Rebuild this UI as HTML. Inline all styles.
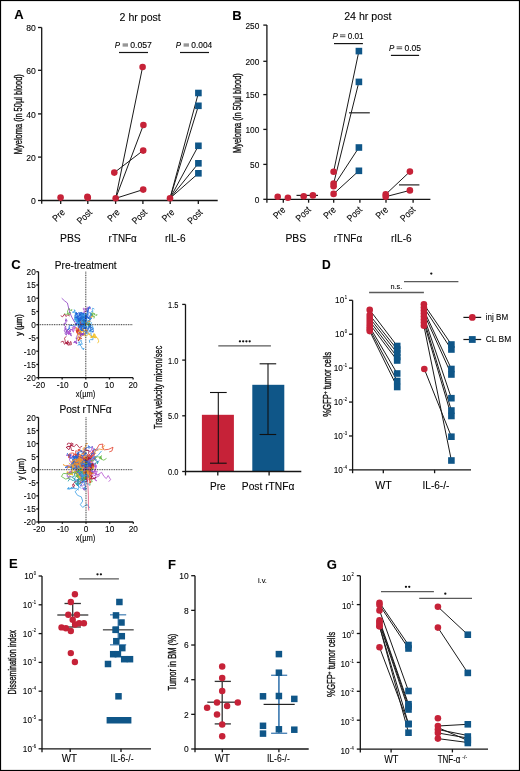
<!DOCTYPE html>
<html><head><meta charset="utf-8"><style>
html,body{margin:0;padding:0;background:#fff;}
svg{display:block;will-change:transform;font-family:"Liberation Sans",sans-serif;}
text{stroke:#111;stroke-width:0.1px;}
text.yl{stroke-width:0.35px;}
</style></head><body>
<svg width="520" height="771" viewBox="0 0 520 771">
<rect x="0" y="0" width="520" height="771" fill="#fff"/>
<text x="14.20" y="18.80" font-size="13" font-weight="bold" fill="#000">A</text>
<text x="119.60" y="20.80" font-size="10.5" textLength="41.20" lengthAdjust="spacingAndGlyphs">2 hr post</text>
<line x1="41.70" y1="27.50" x2="41.70" y2="203.80" stroke="#151515" stroke-width="1.3"/>
<line x1="41.70" y1="200.50" x2="217.70" y2="200.50" stroke="#151515" stroke-width="1.3"/>
<line x1="38.00" y1="200.50" x2="41.70" y2="200.50" stroke="#151515" stroke-width="1.3"/>
<text x="35.90" y="204.27" font-size="9.8" text-anchor="end" textLength="4.80" lengthAdjust="spacingAndGlyphs">0</text>
<line x1="38.00" y1="157.10" x2="41.70" y2="157.10" stroke="#151515" stroke-width="1.3"/>
<text x="35.90" y="160.87" font-size="9.8" text-anchor="end" textLength="9.59" lengthAdjust="spacingAndGlyphs">20</text>
<line x1="38.00" y1="113.90" x2="41.70" y2="113.90" stroke="#151515" stroke-width="1.3"/>
<text x="35.90" y="117.67" font-size="9.8" text-anchor="end" textLength="9.59" lengthAdjust="spacingAndGlyphs">40</text>
<line x1="38.00" y1="70.30" x2="41.70" y2="70.30" stroke="#151515" stroke-width="1.3"/>
<text x="35.90" y="74.07" font-size="9.8" text-anchor="end" textLength="9.59" lengthAdjust="spacingAndGlyphs">60</text>
<line x1="38.00" y1="27.50" x2="41.70" y2="27.50" stroke="#151515" stroke-width="1.3"/>
<text x="35.90" y="31.27" font-size="9.8" text-anchor="end" textLength="9.59" lengthAdjust="spacingAndGlyphs">80</text>
<line x1="60.70" y1="200.50" x2="60.70" y2="203.90" stroke="#151515" stroke-width="1.3"/>
<text transform="translate(65.50,213.00) rotate(-45)" font-size="9.6" text-anchor="end" textLength="13.03" lengthAdjust="spacingAndGlyphs">Pre</text>
<line x1="87.80" y1="200.50" x2="87.80" y2="203.90" stroke="#151515" stroke-width="1.3"/>
<text transform="translate(92.60,213.00) rotate(-45)" font-size="9.6" text-anchor="end" textLength="16.75" lengthAdjust="spacingAndGlyphs">Post</text>
<line x1="115.60" y1="200.50" x2="115.60" y2="203.90" stroke="#151515" stroke-width="1.3"/>
<text transform="translate(120.40,213.00) rotate(-45)" font-size="9.6" text-anchor="end" textLength="13.03" lengthAdjust="spacingAndGlyphs">Pre</text>
<line x1="142.90" y1="200.50" x2="142.90" y2="203.90" stroke="#151515" stroke-width="1.3"/>
<text transform="translate(147.70,213.00) rotate(-45)" font-size="9.6" text-anchor="end" textLength="16.75" lengthAdjust="spacingAndGlyphs">Post</text>
<line x1="170.20" y1="200.50" x2="170.20" y2="203.90" stroke="#151515" stroke-width="1.3"/>
<text transform="translate(175.00,213.00) rotate(-45)" font-size="9.6" text-anchor="end" textLength="13.03" lengthAdjust="spacingAndGlyphs">Pre</text>
<line x1="198.30" y1="200.50" x2="198.30" y2="203.90" stroke="#151515" stroke-width="1.3"/>
<text transform="translate(203.10,213.00) rotate(-45)" font-size="9.6" text-anchor="end" textLength="16.75" lengthAdjust="spacingAndGlyphs">Post</text>
<text x="60.00" y="242.10" font-size="10.8" textLength="20.80" lengthAdjust="spacingAndGlyphs">PBS</text>
<text x="108.60" y="242.10" font-size="10.8" textLength="28.20" lengthAdjust="spacingAndGlyphs">rTNFα</text>
<text x="164.90" y="242.10" font-size="10.8" textLength="20.80" lengthAdjust="spacingAndGlyphs">rIL-6</text>
<text class="yl" transform="translate(21.70,154.20) rotate(-90)" font-size="10.6" textLength="80.00" lengthAdjust="spacingAndGlyphs" fill="#111">Myeloma (in 50µl blood)</text>
<text x="114.80" y="47.80" font-size="8.4" font-style="italic" textLength="5.32" lengthAdjust="spacingAndGlyphs">P</text>
<line x1="122.60" y1="44.10" x2="128.00" y2="44.10" stroke="#333" stroke-width="0.85"/>
<line x1="122.60" y1="45.90" x2="128.00" y2="45.90" stroke="#333" stroke-width="0.85"/>
<text x="130.20" y="47.80" font-size="8.4" textLength="21.70" lengthAdjust="spacingAndGlyphs">0.057</text>
<line x1="119.00" y1="52.50" x2="148.00" y2="52.50" stroke="#151515" stroke-width="1.2"/>
<text x="175.70" y="47.80" font-size="8.4" font-style="italic" textLength="5.32" lengthAdjust="spacingAndGlyphs">P</text>
<line x1="183.60" y1="44.10" x2="189.00" y2="44.10" stroke="#333" stroke-width="0.85"/>
<line x1="183.60" y1="45.90" x2="189.00" y2="45.90" stroke="#333" stroke-width="0.85"/>
<text x="191.30" y="47.80" font-size="8.4" textLength="21.00" lengthAdjust="spacingAndGlyphs">0.004</text>
<line x1="180.00" y1="52.50" x2="209.00" y2="52.50" stroke="#151515" stroke-width="1.2"/>
<line x1="115.70" y1="198.30" x2="142.60" y2="67.00" stroke="#1a1a1a" stroke-width="1.0"/>
<line x1="115.70" y1="198.30" x2="143.40" y2="125.00" stroke="#1a1a1a" stroke-width="1.0"/>
<line x1="115.70" y1="198.30" x2="143.20" y2="189.60" stroke="#1a1a1a" stroke-width="1.0"/>
<line x1="114.30" y1="172.60" x2="143.00" y2="150.60" stroke="#1a1a1a" stroke-width="1.0"/>
<line x1="170.00" y1="198.30" x2="198.40" y2="93.00" stroke="#1a1a1a" stroke-width="1.0"/>
<line x1="170.00" y1="198.30" x2="198.40" y2="105.80" stroke="#1a1a1a" stroke-width="1.0"/>
<line x1="170.00" y1="198.30" x2="198.40" y2="145.80" stroke="#1a1a1a" stroke-width="1.0"/>
<line x1="170.00" y1="198.30" x2="198.40" y2="163.30" stroke="#1a1a1a" stroke-width="1.0"/>
<line x1="170.00" y1="198.30" x2="198.40" y2="173.30" stroke="#1a1a1a" stroke-width="1.0"/>
<circle cx="60.60" cy="197.60" r="3.3" fill="#c62238"/>
<circle cx="87.40" cy="196.80" r="3.3" fill="#c62238"/>
<circle cx="87.80" cy="197.80" r="3.3" fill="#c62238"/>
<circle cx="115.70" cy="198.30" r="3.3" fill="#c62238"/>
<circle cx="114.30" cy="172.60" r="3.3" fill="#c62238"/>
<circle cx="142.60" cy="67.00" r="3.3" fill="#c62238"/>
<circle cx="143.40" cy="125.00" r="3.3" fill="#c62238"/>
<circle cx="143.20" cy="150.60" r="3.3" fill="#c62238"/>
<circle cx="143.20" cy="189.60" r="3.3" fill="#c62238"/>
<circle cx="170.00" cy="198.30" r="3.3" fill="#c62238"/>
<rect x="195.10" y="89.70" width="6.6" height="6.6" fill="#0f5688"/>
<rect x="195.10" y="102.50" width="6.6" height="6.6" fill="#0f5688"/>
<rect x="195.10" y="142.50" width="6.6" height="6.6" fill="#0f5688"/>
<rect x="195.10" y="160.00" width="6.6" height="6.6" fill="#0f5688"/>
<rect x="195.10" y="170.00" width="6.6" height="6.6" fill="#0f5688"/>
<text x="232.30" y="19.80" font-size="13" font-weight="bold" fill="#000">B</text>
<text x="344.20" y="19.80" font-size="10.5" textLength="47.20" lengthAdjust="spacingAndGlyphs">24 hr post</text>
<line x1="266.90" y1="25.10" x2="266.90" y2="202.70" stroke="#151515" stroke-width="1.3"/>
<line x1="266.90" y1="199.30" x2="430.40" y2="199.30" stroke="#151515" stroke-width="1.3"/>
<line x1="263.30" y1="199.30" x2="266.90" y2="199.30" stroke="#151515" stroke-width="1.3"/>
<text x="259.40" y="203.00" font-size="9.6" text-anchor="end" textLength="4.65" lengthAdjust="spacingAndGlyphs">0</text>
<line x1="263.30" y1="164.40" x2="266.90" y2="164.40" stroke="#151515" stroke-width="1.3"/>
<text x="259.40" y="168.10" font-size="9.6" text-anchor="end" textLength="9.29" lengthAdjust="spacingAndGlyphs">50</text>
<line x1="263.30" y1="129.40" x2="266.90" y2="129.40" stroke="#151515" stroke-width="1.3"/>
<text x="259.40" y="133.10" font-size="9.6" text-anchor="end" textLength="13.94" lengthAdjust="spacingAndGlyphs">100</text>
<line x1="263.30" y1="94.60" x2="266.90" y2="94.60" stroke="#151515" stroke-width="1.3"/>
<text x="259.40" y="98.30" font-size="9.6" text-anchor="end" textLength="13.94" lengthAdjust="spacingAndGlyphs">150</text>
<line x1="263.30" y1="61.30" x2="266.90" y2="61.30" stroke="#151515" stroke-width="1.3"/>
<text x="259.40" y="65.00" font-size="9.6" text-anchor="end" textLength="13.94" lengthAdjust="spacingAndGlyphs">200</text>
<line x1="263.30" y1="25.10" x2="266.90" y2="25.10" stroke="#151515" stroke-width="1.3"/>
<text x="259.40" y="28.80" font-size="9.6" text-anchor="end" textLength="13.94" lengthAdjust="spacingAndGlyphs">250</text>
<line x1="283.30" y1="199.30" x2="283.30" y2="202.70" stroke="#151515" stroke-width="1.3"/>
<text transform="translate(286.10,210.40) rotate(-45)" font-size="9.6" text-anchor="end" textLength="13.03" lengthAdjust="spacingAndGlyphs">Pre</text>
<line x1="308.60" y1="199.30" x2="308.60" y2="202.70" stroke="#151515" stroke-width="1.3"/>
<text transform="translate(311.40,210.40) rotate(-45)" font-size="9.6" text-anchor="end" textLength="16.75" lengthAdjust="spacingAndGlyphs">Post</text>
<line x1="333.70" y1="199.30" x2="333.70" y2="202.70" stroke="#151515" stroke-width="1.3"/>
<text transform="translate(336.50,210.40) rotate(-45)" font-size="9.6" text-anchor="end" textLength="13.03" lengthAdjust="spacingAndGlyphs">Pre</text>
<line x1="359.90" y1="199.30" x2="359.90" y2="202.70" stroke="#151515" stroke-width="1.3"/>
<text transform="translate(362.70,210.40) rotate(-45)" font-size="9.6" text-anchor="end" textLength="16.75" lengthAdjust="spacingAndGlyphs">Post</text>
<line x1="386.00" y1="199.30" x2="386.00" y2="202.70" stroke="#151515" stroke-width="1.3"/>
<text transform="translate(388.80,210.40) rotate(-45)" font-size="9.6" text-anchor="end" textLength="13.03" lengthAdjust="spacingAndGlyphs">Pre</text>
<line x1="413.10" y1="199.30" x2="413.10" y2="202.70" stroke="#151515" stroke-width="1.3"/>
<text transform="translate(415.90,210.40) rotate(-45)" font-size="9.6" text-anchor="end" textLength="16.75" lengthAdjust="spacingAndGlyphs">Post</text>
<text x="285.40" y="242.40" font-size="10.8" textLength="20.80" lengthAdjust="spacingAndGlyphs">PBS</text>
<text x="333.80" y="242.40" font-size="10.8" textLength="28.40" lengthAdjust="spacingAndGlyphs">rTNFα</text>
<text x="390.90" y="242.40" font-size="10.8" textLength="20.80" lengthAdjust="spacingAndGlyphs">rIL-6</text>
<text class="yl" transform="translate(241.00,153.00) rotate(-90)" font-size="10.6" textLength="79.80" lengthAdjust="spacingAndGlyphs" fill="#111">Myeloma (in 50µl blood)</text>
<text x="332.40" y="38.60" font-size="8.4" font-style="italic" textLength="5.32" lengthAdjust="spacingAndGlyphs">P</text>
<line x1="340.00" y1="34.90" x2="345.40" y2="34.90" stroke="#333" stroke-width="0.85"/>
<line x1="340.00" y1="36.70" x2="345.40" y2="36.70" stroke="#333" stroke-width="0.85"/>
<text x="347.70" y="38.60" font-size="8.4" textLength="15.90" lengthAdjust="spacingAndGlyphs">0.01</text>
<line x1="334.00" y1="43.60" x2="362.90" y2="43.60" stroke="#151515" stroke-width="1.2"/>
<text x="388.90" y="50.60" font-size="8.4" font-style="italic" textLength="5.32" lengthAdjust="spacingAndGlyphs">P</text>
<line x1="396.60" y1="46.90" x2="402.20" y2="46.90" stroke="#333" stroke-width="0.85"/>
<line x1="396.60" y1="48.70" x2="402.20" y2="48.70" stroke="#333" stroke-width="0.85"/>
<text x="404.50" y="50.60" font-size="8.4" textLength="16.60" lengthAdjust="spacingAndGlyphs">0.05</text>
<line x1="390.90" y1="55.40" x2="419.10" y2="55.40" stroke="#151515" stroke-width="1.2"/>
<line x1="296.50" y1="195.40" x2="318.00" y2="195.40" stroke="#222" stroke-width="1.2"/>
<line x1="349.00" y1="112.80" x2="369.80" y2="112.80" stroke="#222" stroke-width="1.2"/>
<line x1="399.00" y1="184.90" x2="419.40" y2="184.90" stroke="#222" stroke-width="1.2"/>
<line x1="333.60" y1="171.70" x2="358.90" y2="51.10" stroke="#1a1a1a" stroke-width="1.0"/>
<line x1="333.60" y1="183.60" x2="358.90" y2="81.90" stroke="#1a1a1a" stroke-width="1.0"/>
<line x1="333.60" y1="186.20" x2="358.90" y2="147.50" stroke="#1a1a1a" stroke-width="1.0"/>
<line x1="333.60" y1="193.90" x2="358.90" y2="170.80" stroke="#1a1a1a" stroke-width="1.0"/>
<line x1="385.70" y1="194.40" x2="409.90" y2="171.60" stroke="#1a1a1a" stroke-width="1.0"/>
<line x1="385.70" y1="196.70" x2="409.90" y2="190.40" stroke="#1a1a1a" stroke-width="1.0"/>
<circle cx="277.70" cy="196.70" r="3.3" fill="#c62238"/>
<circle cx="287.90" cy="197.70" r="3.3" fill="#c62238"/>
<circle cx="303.70" cy="196.20" r="3.3" fill="#c62238"/>
<circle cx="312.90" cy="195.40" r="3.3" fill="#c62238"/>
<circle cx="333.60" cy="171.70" r="3.3" fill="#c62238"/>
<circle cx="333.60" cy="183.60" r="3.3" fill="#c62238"/>
<circle cx="333.60" cy="186.20" r="3.3" fill="#c62238"/>
<circle cx="333.60" cy="193.90" r="3.3" fill="#c62238"/>
<circle cx="385.70" cy="194.40" r="3.3" fill="#c62238"/>
<circle cx="385.70" cy="196.70" r="3.3" fill="#c62238"/>
<circle cx="409.90" cy="171.60" r="3.3" fill="#c62238"/>
<circle cx="409.90" cy="190.40" r="3.3" fill="#c62238"/>
<rect x="355.60" y="47.80" width="6.6" height="6.6" fill="#0f5688"/>
<rect x="355.60" y="78.60" width="6.6" height="6.6" fill="#0f5688"/>
<rect x="355.60" y="144.20" width="6.6" height="6.6" fill="#0f5688"/>
<rect x="355.60" y="167.50" width="6.6" height="6.6" fill="#0f5688"/>
<text x="11.20" y="268.80" font-size="13" font-weight="bold" fill="#000">C</text>
<text x="54.80" y="268.50" font-size="10.5" textLength="61.80" lengthAdjust="spacingAndGlyphs">Pre-treatment</text>
<text x="59.40" y="412.70" font-size="10.2" textLength="52.20" lengthAdjust="spacingAndGlyphs">Post rTNFα</text>
<g fill="none" stroke-width="0.8" stroke-linejoin="round">
<polyline points="68.0,330.8 66.9,330.6 66.1,330.9 66.7,332.0 67.4,333.0 66.6,332.2 65.8,331.7 67.5,331.7 67.3,330.5 66.9,329.1 65.4,328.3 64.8,329.4 66.5,330.4 68.3,329.6 69.8,330.8 71.0,329.1 70.6,329.7 72.6,329.5 72.1,330.5" stroke="#8e3fc4"/>
<polyline points="85.9,309.3 87.7,308.4 88.3,310.3 88.9,308.4 89.9,307.8 90.4,309.1 89.2,307.4 87.6,307.0 86.3,308.6" stroke="#b450cf"/>
<polyline points="91.7,314.0 90.7,314.8 92.1,314.9 90.9,314.0 92.2,312.6 91.8,313.4 92.9,315.0 93.0,315.8 92.8,316.7 94.5,316.5 93.9,318.5" stroke="#62b63f"/>
<polyline points="80.5,322.5 81.0,323.7 81.4,321.4 80.7,318.9 79.7,318.8 79.9,317.2 78.7,319.5 79.6,318.2 80.1,315.6 80.7,314.9 82.0,314.3 83.8,315.8 83.5,318.5 84.7,319.1 85.7,316.7 85.6,317.6 84.9,319.0 84.0,317.9 84.4,317.2 84.1,315.7 85.0,316.0 86.1,316.3 84.8,314.4 85.4,315.9 86.9,315.3" stroke="#3a9ee6"/>
<polyline points="82.5,326.0 83.2,325.5 81.7,327.6 80.6,326.4 81.3,326.1 80.2,326.3 80.0,324.6 82.2,323.5 82.9,324.1 80.9,324.5 78.8,324.1 79.4,325.2 79.5,326.5 78.6,327.9 79.1,328.7 80.1,329.4 81.9,328.8 82.5,326.9 81.5,325.1 80.9,327.0 82.0,325.7 79.6,325.5" stroke="#1f62d8"/>
<polyline points="84.8,325.1 85.8,324.6 85.9,322.7 85.3,323.5 84.5,323.3 86.8,323.3 87.0,321.6 85.4,319.8 85.5,318.8 83.7,320.3 84.0,319.3 83.0,319.4 81.3,320.8 80.9,321.6 79.7,323.3 79.2,322.5 78.7,321.7 79.6,321.7" stroke="#3a9ee6"/>
<polyline points="78.3,318.0 77.4,316.0 75.6,315.6 75.6,313.6 74.4,312.7 72.4,312.2 73.4,311.7 75.0,310.9 74.1,309.8 74.9,310.1 74.9,312.2 76.0,312.9 75.7,314.8 76.5,317.3 78.5,316.4 80.0,315.0" stroke="#3a9ee6"/>
<polyline points="78.0,324.3 78.8,322.7 78.5,324.6 77.7,323.0 75.8,323.8 77.1,322.6 77.1,321.2 77.4,323.0 75.5,323.9 76.7,324.8 75.5,326.0 73.6,326.1 72.0,325.6 69.7,325.2 68.9,327.6 70.1,328.1 67.9,329.1 68.4,330.0 69.5,328.8" stroke="#1f62d8"/>
<polyline points="81.6,328.9 82.9,328.8 82.5,329.9 82.0,328.7 82.5,330.5 83.4,330.1 82.0,329.0 81.5,329.8 82.5,327.9 81.4,327.1 80.6,324.6 79.9,322.9 79.0,321.6 80.6,323.7 79.9,322.7 79.7,324.0 82.0,323.9 80.1,322.7 78.2,321.3 77.2,321.1 78.9,320.9 77.5,322.9 79.0,321.8 77.9,320.5 78.6,319.4 76.3,319.7" stroke="#3a9ee6"/>
<polyline points="79.1,337.7 79.7,338.8 80.9,338.8 81.6,338.7 80.5,337.3 78.5,337.1 80.1,338.4 78.8,340.2 78.6,341.1 78.1,340.0 79.9,338.8 78.9,338.9 79.6,340.0" stroke="#a8153a"/>
<polyline points="67.7,333.5 66.1,333.7 66.7,335.1 65.0,333.9 65.4,332.0 64.0,330.8 65.5,329.1 65.1,328.5 64.9,327.1 66.2,326.9 64.7,326.0 64.0,325.1 64.3,323.1 65.7,323.7 66.0,321.7 65.3,321.0 66.5,319.5 67.1,321.2 65.6,320.9 65.9,318.5" stroke="#8e3fc4"/>
<polyline points="83.5,323.6 83.3,321.3 85.4,320.6 86.9,321.0 85.0,321.2 85.9,322.1 83.8,322.6 83.7,324.2 82.7,323.1 83.5,321.9 84.5,321.3 82.7,323.0 82.2,321.3 81.3,318.8 83.0,320.7 84.5,322.0 84.5,323.3 84.1,321.3 82.9,320.6 84.4,320.1 83.7,320.7 85.4,320.0 84.8,318.3 83.4,318.6 83.1,317.6" stroke="#3a9ee6"/>
<polyline points="69.9,332.1 70.4,330.7 70.6,331.8 69.4,330.9 68.1,332.1 68.9,332.2 70.1,333.2 69.4,334.1 68.4,334.1 70.1,333.0 69.7,333.9 70.6,332.9 71.3,334.2 70.0,334.8 71.4,335.9 71.4,334.8" stroke="#8e3fc4"/>
<polyline points="84.6,320.5 85.1,322.8 84.4,320.5 86.6,319.8 85.9,317.9 85.3,318.7 84.9,320.8 86.3,322.1 87.4,323.7 86.6,324.5 84.9,324.2 87.2,323.5 88.0,322.2 89.4,320.0 89.8,321.1 91.5,322.8 90.6,324.7 89.9,323.2 87.8,322.6 88.1,324.6 87.7,323.4 86.7,322.4 85.6,322.4 88.0,322.3 86.5,322.0" stroke="#3a9ee6"/>
<polyline points="67.2,313.5 69.1,313.2 69.9,312.7 69.4,312.2 70.4,313.1 69.6,312.1 70.4,313.1 69.2,315.0 67.4,313.9 66.2,314.4 65.1,314.1 64.1,313.6" stroke="#62b63f"/>
<polyline points="93.5,329.3 93.0,327.5 92.3,325.6 90.3,324.7 90.1,326.3 89.3,326.1 88.6,327.7 89.5,327.6 89.7,326.0 87.8,326.0 88.7,326.5 89.3,325.0 87.6,323.6 89.0,324.8" stroke="#3a9ee6"/>
<polyline points="91.4,327.0 89.6,326.8 88.8,325.1 88.6,323.3 89.9,323.7 90.2,325.0 89.7,324.3 89.3,322.6 89.1,324.5 88.7,325.2 88.7,326.0 88.0,325.4 86.6,323.6 84.6,324.0 84.2,324.8" stroke="#62b63f"/>
<polyline points="80.1,318.0 79.7,319.3 79.0,318.4 79.2,320.3 79.5,321.7 79.8,319.4 82.0,319.6 82.8,321.9 82.7,323.1 81.3,323.3 82.1,323.2 81.9,321.8 81.1,324.3 78.9,323.5 81.2,323.7 80.5,322.7 80.6,321.5" stroke="#1f62d8"/>
<polyline points="78.2,333.2 77.4,332.8 76.5,332.3 78.0,332.0 77.4,330.0 77.4,329.1 76.0,328.6 76.9,327.3 75.6,328.8 76.9,329.6 77.4,330.4 77.4,332.8 76.5,332.3" stroke="#f0952a"/>
<polyline points="91.3,330.4 90.9,331.7 90.1,330.5 88.3,330.9 87.9,331.5 87.8,334.3 86.9,333.3 84.8,333.9 83.5,333.2 83.8,330.8 82.6,328.5 81.7,329.3 80.6,326.9 82.4,328.6" stroke="#3a9ee6"/>
<polyline points="86.5,322.6 86.6,323.7 85.8,325.2 84.0,324.7 84.4,325.5 84.1,324.2 84.3,323.4 84.2,322.3 83.8,323.7 84.6,322.9 83.4,322.6 83.8,321.9" stroke="#f0952a"/>
<polyline points="82.5,326.4 81.6,325.2 79.8,323.6 81.8,322.3 82.9,322.1 82.7,319.5 81.3,319.6 82.1,320.4 80.5,320.0 80.6,322.2 79.8,323.5 79.3,322.4 80.3,324.2 80.3,325.4 78.4,324.5 77.5,325.0 75.3,324.4 75.4,323.2" stroke="#1f62d8"/>
<polyline points="80.5,320.2 82.0,319.4 81.4,318.7 80.6,318.7 79.8,318.3 81.0,317.4 81.5,318.4 81.8,316.4 83.4,317.0 81.5,315.4 83.6,314.6 83.4,313.6 84.3,312.6 84.8,313.7 83.2,314.7 82.0,313.3" stroke="#1f62d8"/>
<polyline points="84.2,320.2 85.5,321.8 85.3,320.5 84.9,318.8 85.7,317.4 85.5,314.7 87.2,315.1 87.3,312.4 86.8,311.0 88.2,310.9 86.6,310.7 87.1,308.9 88.3,308.9 89.5,308.0 90.3,307.8 89.9,306.6 88.5,307.5 88.5,309.6 88.0,312.1 87.0,311.2 88.0,311.3 87.7,313.3 89.8,312.7 91.2,313.9 91.0,316.3 92.0,314.9 89.9,315.0" stroke="#1f62d8"/>
<polyline points="78.4,343.3 79.1,341.7 79.9,343.5 80.2,344.4 82.3,344.2 81.4,342.2 80.8,341.3 80.7,340.2 82.1,341.4" stroke="#3a9ee6"/>
<polyline points="84.5,326.5 82.7,326.7 81.8,328.1 80.6,329.2 82.3,328.4 84.3,328.5 82.6,328.3 81.5,327.1 82.3,327.6 81.7,328.6 82.9,328.6 82.3,329.5 84.1,331.1 85.2,331.6 87.0,330.9 86.2,332.9" stroke="#1f62d8"/>
<polyline points="93.9,337.3 96.1,337.9 96.1,336.3 95.2,337.4 94.3,337.6 92.9,336.9 93.9,336.7 95.9,337.2 97.6,338.0 98.4,340.3 99.0,340.9 98.3,342.0 97.7,343.2" stroke="#f1be1e"/>
<polyline points="91.5,331.1 89.6,330.2 90.5,329.4 92.4,330.0 93.2,328.8 92.1,327.1 90.4,328.7 91.1,330.4 91.0,332.6 91.1,334.4 91.5,336.5 92.3,337.1 92.9,337.7 93.0,339.7 90.6,339.6 89.3,340.3 89.8,342.8" stroke="#3a9ee6"/>
<polyline points="95.9,336.0 94.8,336.3 95.1,334.2 93.7,333.9 94.5,334.1 93.2,335.8 91.7,336.9 94.1,336.3 95.4,335.8 93.6,334.4 93.1,336.8 90.9,337.9 90.3,336.4" stroke="#f1be1e"/>
<polyline points="77.7,332.2 78.7,332.0 77.5,330.2 79.1,331.4 80.9,330.8 80.5,332.5 81.2,332.6 82.3,331.0 83.9,331.7 83.4,330.1 83.4,331.0 83.0,329.9 83.9,328.9" stroke="#f0952a"/>
<polyline points="81.8,321.2 80.1,321.1 80.4,322.8 81.6,323.6 81.6,322.4 81.8,323.4 81.3,321.6 80.5,320.2 79.8,320.9 78.7,320.9 77.5,318.7 75.4,317.5 76.9,316.6 77.4,318.9 76.7,317.6 74.5,317.6 75.4,317.2 75.1,315.0 77.0,314.1 76.3,312.3 75.7,313.8" stroke="#1f62d8"/>
<polyline points="79.9,333.0 81.9,332.7 81.8,333.9 82.7,335.4 81.7,335.1 80.6,334.7 81.3,334.1 81.1,332.6 79.6,333.6" stroke="#f1be1e"/>
<polyline points="87.6,322.4 88.4,320.2 89.1,321.7 89.5,320.8 89.7,322.0 89.6,319.6 90.2,318.5 91.5,317.5 92.6,316.0 91.2,315.9 91.0,316.6 90.7,317.5 89.7,319.0 90.8,317.6 89.9,318.2" stroke="#f0952a"/>
<polyline points="84.4,325.8 83.9,324.9 84.7,324.7 84.0,326.7 83.4,328.8 85.0,328.0 83.6,326.2 84.6,328.5 86.6,327.5 88.6,328.8 89.5,328.1 90.1,327.5 91.3,329.4 89.9,331.2 89.1,332.3" stroke="#1f62d8"/>
<polyline points="92.6,315.1 92.3,315.9 92.1,313.8 93.0,312.7 94.0,314.5 94.6,313.4 94.4,314.8 95.4,315.0 96.7,315.5 96.9,314.0" stroke="#62b63f"/>
<polyline points="77.1,332.0 75.9,331.0 76.3,330.4 77.5,330.4 78.8,329.3 79.0,330.3 78.0,331.0 77.4,331.1 79.4,330.6 80.4,331.8 79.4,332.2 79.7,333.7 81.4,334.3" stroke="#a8153a"/>
<polyline points="82.7,322.3 81.5,321.7 81.8,324.0 81.0,323.6 81.1,325.2 82.4,326.6 82.6,325.6 83.9,326.3 83.2,327.0 84.3,328.3 85.7,329.3 86.4,327.9 86.2,326.6 86.0,328.7 85.1,327.9 83.2,327.7 84.5,326.3 86.0,325.5 86.6,327.2 85.4,326.8 85.4,328.5 84.3,328.8 85.1,327.1" stroke="#1f62d8"/>
<polyline points="81.7,316.4 81.6,315.4 81.8,316.8 82.8,315.6 84.7,316.9 84.6,315.7 86.1,316.7 85.9,317.6 87.7,316.9 86.9,316.4 88.6,317.2 88.9,318.2 89.4,318.9 90.4,320.2 89.5,318.6 90.6,319.2 91.7,317.9" stroke="#1f62d8"/>
<polyline points="82.0,318.1 80.1,317.8 80.4,318.8 79.2,321.0 79.6,323.2 78.5,323.1 78.8,324.5 79.6,327.1 78.5,326.1 80.3,326.8 80.8,325.9 82.1,323.8 82.5,324.8 83.6,327.2 82.9,328.5" stroke="#1f62d8"/>
<polyline points="78.9,332.7 77.8,333.9 77.2,335.5 76.8,336.5 76.2,337.8 76.2,338.7 76.5,338.0 76.8,340.2 76.2,341.3 77.0,343.2 76.0,343.6 75.6,342.3 75.0,340.9 73.7,342.7 75.2,342.2 76.0,341.9 76.5,343.5" stroke="#8e3fc4"/>
<polyline points="82.7,333.7 82.0,335.2 83.7,335.3 84.7,333.6 83.9,333.9 82.0,333.5 81.1,334.6 82.7,334.4 84.7,334.6 84.8,333.7 83.8,333.5" stroke="#8e3fc4"/>
<polyline points="77.9,321.5 77.9,319.9 75.6,319.7 76.5,317.6 76.3,320.0 76.6,322.0 75.9,320.7 74.6,318.9 75.6,318.3 75.6,319.6 76.3,319.3 75.1,319.8 77.3,320.1 78.5,320.2 79.3,319.6 77.4,319.6 76.3,319.2 74.7,318.2 73.8,320.2 74.8,321.9 76.4,320.3 76.0,318.4 74.6,316.8 74.9,315.5 75.0,314.4" stroke="#3a9ee6"/>
<polyline points="81.1,320.3 81.1,319.1 82.7,320.0 81.6,320.2 79.9,319.5 79.6,317.1 80.4,317.2 82.0,316.9 83.6,317.2 83.7,315.5 82.7,317.2 81.7,318.8 83.6,320.6 83.2,319.4 83.3,318.2 84.8,319.7 86.3,317.6 88.5,317.8 90.3,317.7 91.4,318.8" stroke="#1f62d8"/>
<polyline points="80.2,335.3 79.1,334.1 80.6,334.0 79.2,333.5 80.5,332.2 81.3,334.2 80.5,332.4 79.2,331.1 81.0,330.2 82.4,330.7 80.9,330.8 80.2,331.0 81.2,331.2 81.6,330.4" stroke="#f1be1e"/>
<polyline points="88.4,329.2 86.9,331.3 87.3,328.8 88.5,328.7 88.7,326.4 90.6,327.2 89.6,325.0 89.0,323.8 90.5,324.9 89.9,326.9 91.4,327.1 92.5,329.0 93.4,330.3 93.1,332.2 92.7,331.0 92.1,331.7 92.9,332.3" stroke="#1f62d8"/>
<polyline points="82.4,322.5 83.0,321.6 83.0,320.1 82.0,320.2 81.4,319.2 83.4,319.5 85.3,317.9 86.5,317.0 88.6,317.2 88.4,318.9 89.0,316.9 89.9,316.2 89.3,315.6 87.6,314.2 87.0,315.9 86.0,317.2 87.1,315.6 85.4,314.3 86.7,315.2 84.9,316.3 83.9,315.6 83.5,318.1" stroke="#1f62d8"/>
<polyline points="82.4,320.5 81.9,318.7 80.4,318.3 82.1,316.6 82.9,314.0 83.6,314.4 81.5,313.7 83.0,314.1 82.9,312.8 83.9,313.3 83.1,313.8 80.7,314.2 82.1,312.4 79.9,312.6 79.6,313.8 80.8,314.9 81.6,314.7 80.1,314.6 79.7,313.6 79.0,312.4 79.4,313.1 79.4,315.5 81.1,313.8 80.6,316.3 80.3,314.7 78.3,313.0 77.2,313.8 76.1,313.2 77.0,312.9 77.6,314.1" stroke="#1f62d8"/>
<polyline points="90.3,333.5 89.9,334.7 88.6,333.5 87.1,331.6 86.6,329.9 86.9,330.8 86.4,329.7 84.1,330.5 82.2,328.9 83.5,326.6 82.9,325.3 82.6,322.8 82.8,321.9 84.5,321.6 83.4,322.5" stroke="#f0952a"/>
<polyline points="79.1,318.6 80.6,316.6 80.7,315.5 82.2,314.3 83.6,316.0 82.6,315.2 84.5,315.1 83.2,315.6 82.3,317.0 84.2,317.8 84.2,315.3 85.8,314.8 84.8,314.0 86.8,313.2 88.4,313.1" stroke="#3a9ee6"/>
<polyline points="83.1,319.1 81.7,320.8 80.8,321.2 79.4,321.2 80.8,322.0 79.0,323.1 80.4,321.8 79.3,323.6 80.4,324.9 79.6,327.1 79.3,327.8" stroke="#1c9aa0"/>
<polyline points="86.5,310.4 85.7,312.1 85.0,311.0 84.1,312.6 84.1,310.4 83.1,309.0 83.5,308.1 85.0,309.1 84.8,309.9 85.7,309.7 86.0,308.5" stroke="#b450cf"/>
<polyline points="72.5,329.8 72.8,331.5 73.7,332.1 73.1,331.1 74.1,330.7 73.3,329.5 72.2,327.4 73.0,328.4 73.4,326.9 74.1,326.2 73.9,327.1 74.7,327.2 76.0,327.3 74.8,327.8 73.7,328.4 74.2,327.9 74.8,329.3 74.9,330.1" stroke="#b450cf"/>
<polyline points="79.9,321.9 80.5,324.1 82.2,322.7 83.7,320.6 84.5,318.2 85.6,318.0 83.5,318.0 82.8,316.3 83.2,317.2 83.0,319.7 81.9,321.8 79.8,322.0 80.5,322.8 81.4,321.3 82.9,323.0" stroke="#1f62d8"/>
<polyline points="80.1,326.7 81.6,326.5 82.1,325.5 84.0,324.7 84.8,323.7 83.1,322.2 84.4,321.3 82.3,322.1 83.2,324.4 82.9,322.8 81.5,320.8 82.5,321.1 83.0,319.9 83.2,318.2 82.1,318.9 83.6,318.8 82.4,317.4 84.3,318.1 82.5,318.3 82.1,319.1 83.8,320.5 85.3,322.2 84.2,321.2 85.6,319.9 86.4,319.5 86.7,318.4" stroke="#1f62d8"/>
<polyline points="80.7,320.8 79.1,321.6 80.9,322.2 81.9,321.7 80.5,320.2 82.3,320.8 81.3,320.6 78.9,320.4 77.6,320.2 78.9,318.4 78.8,320.2 78.2,321.9 78.9,319.4 77.6,317.7 79.4,318.9" stroke="#1f62d8"/>
<polyline points="80.2,319.3 81.7,320.8 80.4,319.9 79.1,320.2 78.6,319.4 78.2,316.7 79.3,315.4 77.8,317.2 78.1,315.9 78.1,314.3 75.8,313.4 77.1,315.4 77.9,315.3 77.4,317.8 75.6,317.5 77.1,317.5 79.0,318.5 80.5,320.7 80.5,319.6 81.4,318.1 80.4,320.5" stroke="#1f62d8"/>
<polyline points="81.6,326.6 82.3,327.3 82.4,328.1 83.7,326.7 85.6,326.2 87.3,326.7 85.9,327.0 86.0,328.0 85.2,325.5 85.6,324.2 85.8,325.1 83.5,325.7 83.2,324.3 83.8,325.4 82.2,325.7 83.6,325.4 83.1,326.2 83.9,323.8 83.3,324.6 83.6,323.0 82.5,321.7 81.8,323.7 80.9,322.5 82.1,322.5 82.6,323.3" stroke="#3a9ee6"/>
<polyline points="67.4,313.1 68.4,313.0 67.0,311.7 67.7,311.5 67.8,310.4 68.6,309.0 68.9,308.3 69.8,309.4 68.9,308.8 70.5,310.4 72.0,309.6 71.3,311.1" stroke="#62b63f"/>
<polyline points="91.5,337.8 91.5,335.9 89.3,334.8 89.0,333.5 88.5,334.3 86.5,335.8 85.3,335.9 83.7,335.5 84.2,334.7 85.1,333.6 84.0,332.9 84.1,331.8" stroke="#f1be1e"/>
<polyline points="82.4,316.9 82.4,317.8 82.0,319.1 82.0,321.2 81.8,320.3 83.0,320.8 84.6,321.6 84.4,323.8 83.5,324.8 85.1,324.2 83.8,323.5" stroke="#1c9aa0"/>
<polyline points="77.9,345.7 78.5,344.4 80.6,344.8 79.7,344.8 81.2,346.2 82.3,348.6 83.4,349.7 84.1,348.5 82.5,348.7" stroke="#3a9ee6"/>
<polyline points="69.7,330.2 70.5,331.5 68.9,332.2 69.6,333.3 67.8,332.2 69.2,331.4 68.7,332.0 67.4,333.2 68.5,333.7 69.9,333.9 67.9,333.7 69.6,333.3 68.8,334.2" stroke="#b450cf"/>
<polyline points="82.6,320.7 82.9,319.3 84.4,317.7 86.1,318.5 85.3,317.5 86.3,316.1 86.3,317.2 87.1,317.9 86.5,319.0 85.8,321.7 84.6,320.7 84.1,319.9 83.2,318.8 81.3,318.3 80.1,317.0 79.4,314.5 81.1,312.8" stroke="#1f62d8"/>
<polyline points="78.8,330.2 78.3,328.0 79.9,327.3 79.3,325.0 81.2,324.8 80.7,324.0 82.6,324.0 81.7,324.1 79.9,323.2 80.2,321.6 80.8,320.8 81.0,322.7 81.2,321.9 82.6,320.9" stroke="#e3402c"/>
<polyline points="84.2,325.4 83.5,326.5 82.8,325.4 81.4,323.2 83.4,322.6 85.1,323.8 83.9,324.8 83.4,322.6 83.6,323.5 82.7,323.6 81.9,323.5 80.1,324.3 80.9,326.1 80.5,324.4 79.3,324.6 79.3,325.6 78.8,324.7 78.0,327.0 79.8,327.4 81.4,327.9 80.4,328.5 81.4,330.9 81.5,329.7 83.4,330.6 81.0,330.4" stroke="#1f62d8"/>
<polyline points="67.2,343.7 66.7,342.6 67.9,340.7 68.0,342.8 67.8,341.8 69.5,343.3 70.7,341.4 71.2,343.0 71.4,344.6 70.0,344.9 68.8,344.8" stroke="#a8153a"/>
<polyline points="78.0,333.7 79.7,334.9 77.8,334.4 78.0,335.4 78.4,336.2 77.5,337.1 77.5,339.1 79.5,339.7 79.0,339.2 80.8,338.1 80.4,337.1 81.3,336.2 80.4,334.5" stroke="#f0952a"/>
<polyline points="78.8,326.2 79.5,324.6 80.2,323.9 79.4,323.5 77.9,322.8 79.6,322.3 81.4,321.2 81.7,323.0 83.2,322.4 81.5,320.5 82.9,318.7 84.9,318.7 85.4,319.8 87.0,320.0 89.2,320.7 90.3,318.7 91.0,319.1 89.8,317.3 91.1,315.1 90.7,312.7 91.7,311.3 92.7,311.9 92.6,310.1 92.2,309.3 92.7,308.2 94.4,309.1" stroke="#3a9ee6"/>
<polyline points="77.6,331.3 78.7,329.9 78.0,330.6 77.8,329.9 77.2,331.4 78.3,333.4 77.2,333.5 76.9,331.7 77.6,332.0 76.1,330.9 77.2,329.6 77.2,327.9" stroke="#e3402c"/>
<polyline points="67.3,344.7 67.0,343.9 65.7,342.7 67.0,343.5 68.3,343.4 66.9,343.8 66.4,343.2 65.2,342.2 65.1,340.1 64.5,338.7 64.8,337.6 66.4,336.5" stroke="#a8153a"/>
<polyline points="79.4,333.5 80.4,334.2 80.4,336.1 81.5,334.5 81.1,332.9 79.5,332.8 81.0,334.3 81.7,334.0 83.5,333.2 82.9,334.8 82.0,334.0 80.4,335.4 81.2,336.9" stroke="#8e3fc4"/>
<polyline points="61.7,298.2 64.5,300.8 67.4,303.0 68.8,308.8 70.2,313.6 72.1,317.8 74.0,321.0 75.9,324.2" stroke="#8e3fc4"/>
<polyline points="60.7,315.7 62.6,316.8 64.5,314.1 65.9,316.5 67.8,314.9 69.7,316.0" stroke="#a8153a"/>
<polyline points="60.7,342.2 63.1,341.1 64.5,344.3 66.9,342.2 68.3,345.4 70.7,342.7" stroke="#a8153a"/>
</g>
<line x1="38.5" y1="324.70" x2="132.6" y2="324.70" stroke="#222" stroke-width="1" stroke-dasharray="0.9 0.82"/>
<line x1="85.80" y1="271.70" x2="85.80" y2="377.70" stroke="#222" stroke-width="1" stroke-dasharray="0.9 0.82"/>
<line x1="38.50" y1="271.70" x2="38.50" y2="377.70" stroke="#151515" stroke-width="1.3"/>
<line x1="38.50" y1="377.70" x2="133.10" y2="377.70" stroke="#151515" stroke-width="1.3"/>
<line x1="36.30" y1="377.70" x2="38.50" y2="377.70" stroke="#151515" stroke-width="1.3"/>
<text x="35.80" y="381.03" font-size="9.4" text-anchor="end" textLength="11.96" lengthAdjust="spacingAndGlyphs">-20</text>
<line x1="36.30" y1="364.45" x2="38.50" y2="364.45" stroke="#151515" stroke-width="1.3"/>
<text x="35.80" y="367.78" font-size="9.4" text-anchor="end" textLength="11.96" lengthAdjust="spacingAndGlyphs">-15</text>
<line x1="36.30" y1="351.20" x2="38.50" y2="351.20" stroke="#151515" stroke-width="1.3"/>
<text x="35.80" y="354.53" font-size="9.4" text-anchor="end" textLength="11.96" lengthAdjust="spacingAndGlyphs">-10</text>
<line x1="36.30" y1="337.95" x2="38.50" y2="337.95" stroke="#151515" stroke-width="1.3"/>
<text x="35.80" y="341.28" font-size="9.4" text-anchor="end" textLength="7.36" lengthAdjust="spacingAndGlyphs">-5</text>
<line x1="36.30" y1="324.70" x2="38.50" y2="324.70" stroke="#151515" stroke-width="1.3"/>
<text x="35.80" y="328.03" font-size="9.4" text-anchor="end" textLength="4.60" lengthAdjust="spacingAndGlyphs">0</text>
<line x1="36.30" y1="311.45" x2="38.50" y2="311.45" stroke="#151515" stroke-width="1.3"/>
<text x="35.80" y="314.78" font-size="9.4" text-anchor="end" textLength="4.60" lengthAdjust="spacingAndGlyphs">5</text>
<line x1="36.30" y1="298.20" x2="38.50" y2="298.20" stroke="#151515" stroke-width="1.3"/>
<text x="35.80" y="301.53" font-size="9.4" text-anchor="end" textLength="9.20" lengthAdjust="spacingAndGlyphs">10</text>
<line x1="36.30" y1="284.95" x2="38.50" y2="284.95" stroke="#151515" stroke-width="1.3"/>
<text x="35.80" y="288.28" font-size="9.4" text-anchor="end" textLength="9.20" lengthAdjust="spacingAndGlyphs">15</text>
<line x1="36.30" y1="271.70" x2="38.50" y2="271.70" stroke="#151515" stroke-width="1.3"/>
<text x="35.80" y="275.03" font-size="9.4" text-anchor="end" textLength="9.20" lengthAdjust="spacingAndGlyphs">20</text>
<line x1="38.50" y1="377.70" x2="38.50" y2="379.50" stroke="#151515" stroke-width="1.3"/>
<text x="39.10" y="387.50" font-size="9.2" text-anchor="middle" textLength="11.97" lengthAdjust="spacingAndGlyphs">-20</text>
<line x1="62.15" y1="377.70" x2="62.15" y2="379.50" stroke="#151515" stroke-width="1.3"/>
<text x="62.75" y="387.50" font-size="9.2" text-anchor="middle" textLength="11.97" lengthAdjust="spacingAndGlyphs">-10</text>
<line x1="85.80" y1="377.70" x2="85.80" y2="379.50" stroke="#151515" stroke-width="1.3"/>
<text x="85.80" y="387.50" font-size="9.2" text-anchor="middle" textLength="4.60" lengthAdjust="spacingAndGlyphs">0</text>
<line x1="109.45" y1="377.70" x2="109.45" y2="379.50" stroke="#151515" stroke-width="1.3"/>
<text x="109.45" y="387.50" font-size="9.2" text-anchor="middle" textLength="9.21" lengthAdjust="spacingAndGlyphs">10</text>
<line x1="133.10" y1="377.70" x2="133.10" y2="379.50" stroke="#151515" stroke-width="1.3"/>
<text x="133.10" y="387.50" font-size="9.2" text-anchor="middle" textLength="9.21" lengthAdjust="spacingAndGlyphs">20</text>
<text x="85.60" y="396.70" font-size="9.2" text-anchor="middle" textLength="19.60" lengthAdjust="spacingAndGlyphs">x(µm)</text>
<text class="yl" transform="translate(22.00,335.80) rotate(-90)" font-size="8.2" textLength="21.60" lengthAdjust="spacingAndGlyphs" fill="#111">y (µm)</text>
<g fill="none" stroke-width="0.8" stroke-linejoin="round">
<polyline points="84.0,471.0 84.5,468.9 84.7,466.8 85.0,464.7 86.3,465.8 88.2,465.1 87.8,467.6 86.2,465.3 88.1,466.3 88.5,464.6 87.0,464.1 88.3,464.9 87.3,467.4 85.3,468.9 84.3,469.4 83.9,468.2 81.1,468.4 81.4,467.2 81.4,465.8 80.5,468.0 79.5,467.6 78.2,468.1 77.6,469.3" stroke="#62b63f"/>
<polyline points="88.1,472.4 86.7,470.3 85.3,470.9 83.1,473.1 83.0,471.5 82.6,469.7 83.4,472.2 84.5,472.7 86.5,475.5 84.0,476.2 83.8,475.0 82.7,475.4 79.7,474.7 81.4,473.9 81.6,475.7 81.7,472.2 79.9,472.1" stroke="#f0952a"/>
<polyline points="82.5,473.1 85.0,471.8 85.1,469.4 87.5,470.5 88.8,473.9 90.9,475.2 93.7,475.0 95.8,476.2 95.9,474.3 97.3,471.2 94.0,471.7 94.6,470.2 95.1,471.8" stroke="#b450cf"/>
<polyline points="83.8,466.4 83.4,463.4 85.2,462.1 82.0,461.3 79.4,463.1 78.4,460.1 75.7,458.3 78.2,456.5 78.8,454.1 77.4,454.3 78.3,456.0 77.8,454.8 77.1,452.6 76.7,454.6 76.2,455.9 74.5,454.5" stroke="#3a9ee6"/>
<polyline points="90.0,471.1 91.4,467.7 90.3,468.8 93.1,469.4 90.4,471.2 90.0,468.0 91.2,467.7 94.3,466.3 95.7,466.8 95.6,463.3 94.6,463.7 92.2,463.1 94.5,465.8 91.6,465.8" stroke="#8e3fc4"/>
<polyline points="89.5,475.6 88.2,477.0 86.9,474.1 89.4,476.0 89.1,477.2 91.6,478.7 91.1,476.3 89.7,474.3 88.2,475.5 86.3,478.3 87.1,481.7 87.7,480.2 85.4,482.0 82.9,481.5" stroke="#a8153a"/>
<polyline points="81.0,469.7 84.1,469.3 84.9,472.2 86.5,474.3 84.5,472.8 81.2,472.9 81.7,474.6 84.1,476.2 84.6,479.4 82.0,477.5 84.0,479.5 84.3,482.6 82.0,480.9 83.7,480.1 82.6,479.8 81.0,477.6 79.9,478.8 82.4,479.8 81.0,477.4 78.9,478.5 76.3,476.1 74.7,478.4 74.9,482.1" stroke="#3a9ee6"/>
<polyline points="85.1,462.2 85.0,459.3 87.9,460.3 86.6,461.5 88.0,459.5 87.7,457.1 86.6,456.4 88.5,456.3 87.4,456.6 89.4,457.9 90.7,458.0 91.9,457.1 93.9,458.1 96.4,459.6 95.1,458.6 93.3,458.5 95.9,460.6 97.9,461.8 99.4,460.4" stroke="#1f62d8"/>
<polyline points="81.8,460.5 82.9,461.8 81.8,460.4 81.6,461.7 81.2,462.9 82.5,465.1 81.4,465.8 83.2,465.2 85.6,465.5 86.4,466.5 87.2,465.7 86.8,467.3 86.4,464.4 85.8,466.3 84.1,465.9 82.4,466.7" stroke="#a8153a"/>
<polyline points="91.5,464.6 93.7,467.1 92.2,466.5 89.5,464.9 87.0,463.3 88.9,460.5 89.4,461.9 89.3,464.7 88.1,464.8 86.8,465.5 87.7,462.1" stroke="#3a9ee6"/>
<polyline points="87.0,472.0 85.4,470.0 84.2,468.6 82.3,470.3 81.4,468.1 78.6,468.4 79.8,467.9 79.8,466.1 80.4,468.2 81.6,469.9 81.0,467.1 83.9,465.2 84.8,466.9 83.6,463.9" stroke="#f1be1e"/>
<polyline points="74.9,463.3 72.1,463.2 74.3,465.4 76.1,464.4 78.8,466.1 79.2,468.5 81.9,468.4 80.3,471.3 82.6,470.4 81.5,468.5 81.0,470.7 84.2,471.4 86.2,469.3 86.1,471.5" stroke="#f0952a"/>
<polyline points="85.7,466.4 85.9,467.6 86.4,466.0 85.8,467.8 84.2,465.6 86.4,463.8 88.0,462.0 88.0,460.4 86.0,460.8 84.5,459.2 83.1,459.5 83.9,456.9 82.4,458.8 83.9,461.0 84.8,462.4 84.7,465.6 86.1,466.7 84.9,463.5 85.5,459.8 86.6,460.8 86.7,457.8 86.7,456.4" stroke="#1f62d8"/>
<polyline points="89.1,469.7 90.4,470.5 88.1,468.4 88.2,469.8 90.9,470.2 92.2,471.8 89.6,474.0 91.5,475.6 94.1,478.0 95.5,480.4 96.8,480.8 94.9,479.3 96.8,477.0 99.2,475.9 98.8,473.9 97.7,475.0 94.8,473.9 96.4,474.0 94.7,471.8 95.8,468.7 96.5,466.3 96.0,465.3" stroke="#b450cf"/>
<polyline points="78.6,469.8 79.9,469.9 81.8,470.6 81.3,472.3 82.3,472.9 80.9,473.7 79.4,472.4 77.8,475.1 76.1,473.0 75.1,471.5 76.6,472.6 78.1,471.5 78.0,473.2 77.9,475.7 77.3,477.2 78.4,476.3 77.2,474.4 79.4,474.3 77.9,473.2 74.7,474.0 75.6,470.7 74.4,467.9 77.0,465.6" stroke="#f0952a"/>
<polyline points="66.9,454.7 66.0,455.4 68.0,455.3 69.1,456.2 70.9,457.8 72.5,456.3 73.2,458.0 72.0,455.5 70.4,453.8" stroke="#b450cf"/>
<polyline points="87.5,468.4 90.7,469.3 88.4,468.4 89.7,467.4 91.3,465.1 90.5,463.1 92.9,464.7 94.3,464.7 95.2,463.4 97.5,461.2 97.3,463.8 98.3,462.1" stroke="#1c9aa0"/>
<polyline points="88.0,459.9 85.1,461.4 87.5,459.5 89.1,457.7 90.1,458.1 90.2,456.1 89.6,455.0 92.0,457.0 90.5,455.7 89.5,456.4 92.6,455.7 91.8,453.4 94.8,454.9 93.3,454.6 92.4,451.2 93.6,452.2 94.6,454.0" stroke="#e3402c"/>
<polyline points="84.1,462.3 82.8,462.9 84.3,463.1 85.5,460.3 88.3,459.7 90.2,456.9 87.9,459.4 87.0,459.9 87.9,460.8 90.5,459.5 92.0,460.6 90.9,460.5 90.2,457.3 87.9,460.1 87.9,462.6 85.5,464.3 87.1,462.9 85.9,465.1 85.8,462.1 85.5,463.9 82.6,464.8 81.3,465.9 82.3,462.4" stroke="#e3402c"/>
<polyline points="79.8,473.0 80.7,472.0 78.9,472.1 79.2,473.9 78.2,473.2 78.6,471.0 76.7,471.8 77.4,473.0 78.2,474.2 80.5,474.7 78.4,473.2 80.6,475.9 79.7,475.3 81.3,472.6" stroke="#f1be1e"/>
<polyline points="85.4,470.1 84.3,469.7 84.8,471.3 86.2,474.2 86.1,470.7 84.0,470.7 81.0,472.0 78.8,471.8 78.0,468.6 76.2,468.6 76.7,467.0 78.2,469.8 81.3,470.3 80.2,473.2 79.5,476.4 79.9,477.9 80.6,479.7 80.8,476.1 83.0,475.8" stroke="#8e3fc4"/>
<polyline points="73.0,474.4 69.7,474.2 69.8,472.8 67.2,471.6 68.0,472.6 66.8,472.5 69.1,475.2 72.1,473.8 72.6,475.3 71.0,472.2 72.5,472.7 72.0,470.5 71.2,471.3 70.3,473.5" stroke="#f1be1e"/>
<polyline points="81.9,469.8 81.9,471.1 85.1,471.3 88.0,469.8 86.0,468.8 87.6,469.1 84.4,469.6 84.0,471.9 87.0,472.4 85.9,473.2 84.4,474.9 84.7,473.6 83.4,473.9 81.0,472.9 79.4,472.4 77.6,473.5" stroke="#3a9ee6"/>
<polyline points="83.2,463.5 80.9,465.7 80.0,464.8 80.6,462.1 82.5,461.9 81.6,462.9 79.0,464.6 80.3,463.0 79.1,464.4 79.4,461.7 79.2,463.2 77.6,465.1 76.8,467.1 75.6,466.9 76.8,466.5 75.2,466.7 75.1,468.8 72.3,467.2 70.1,467.0 73.1,468.6 74.6,466.9 73.2,469.1 74.5,468.4" stroke="#1f62d8"/>
<polyline points="81.0,473.4 79.6,474.3 81.6,475.1 80.5,477.6 82.5,479.4 80.2,478.9 82.7,480.4 84.3,481.2 82.5,481.9 81.9,483.9 80.3,486.0 82.5,485.9 84.6,483.9 85.4,486.6 84.4,489.3 82.6,487.9 83.9,490.0 85.6,489.3 84.8,490.3" stroke="#8e3fc4"/>
<polyline points="89.2,466.0 89.6,467.4 89.9,466.2 91.0,464.2 92.7,464.7 92.6,461.4 93.6,458.9 91.2,461.2 93.4,460.5 91.2,458.3 91.2,455.3 92.1,453.1 93.6,453.4 93.1,450.0 92.5,451.2 93.1,449.5 92.4,446.3 91.4,449.8 90.1,452.2 88.1,450.2 86.9,450.2 85.0,450.1" stroke="#b450cf"/>
<polyline points="79.0,490.2 76.4,488.5 74.7,488.9 74.2,487.4 73.2,487.0 73.3,488.2 70.9,488.8 69.9,488.1 67.4,489.1 68.5,487.4 68.7,489.3 70.7,488.7 71.5,487.0 71.7,488.2 74.0,488.0" stroke="#3a9ee6"/>
<polyline points="81.8,466.1 84.0,463.8 85.2,464.2 84.2,465.6 82.7,465.3 81.4,464.4 80.2,466.0 79.0,463.7 78.1,465.3 77.5,466.3 76.7,467.1 75.0,465.2 76.3,466.8 76.1,465.4 78.1,467.5" stroke="#f1be1e"/>
<polyline points="79.8,462.3 77.9,463.2 77.3,459.8 74.2,459.0 73.2,462.1 74.1,461.1 75.8,461.8 73.8,462.1 76.9,461.6 76.2,459.0 74.5,458.1 73.2,455.2 75.5,457.5 75.6,454.2 75.7,450.8 77.9,451.2 80.4,449.0 77.9,449.8 80.8,451.1 83.5,451.1 84.8,452.6 82.6,453.4" stroke="#e3402c"/>
<polyline points="83.1,463.8 82.3,466.2 80.6,466.7 78.8,466.1 81.0,468.4 78.9,468.9 80.4,467.0 79.6,465.9 77.9,463.9 79.9,461.3 79.8,463.7 82.6,463.5 82.5,466.3 85.3,465.0 83.5,465.7 85.6,463.5 83.6,461.3 83.4,458.0 85.0,456.4" stroke="#f0952a"/>
<polyline points="74.0,450.5 71.7,450.5 71.2,449.1 70.5,446.3 69.0,446.7 68.1,446.4 66.0,447.7 67.7,446.4 70.0,446.3 70.7,445.1" stroke="#a8153a"/>
<polyline points="88.1,470.4 89.8,471.1 92.7,472.6 91.8,469.1 89.4,471.6 89.7,473.6 89.3,471.2 88.2,471.1 89.7,473.0 86.9,472.5 86.9,470.8 85.5,471.7 85.0,470.5 86.7,469.8 83.5,470.4 82.2,472.1 80.9,471.2 77.7,470.6 79.1,469.0 78.0,471.9 75.6,472.8 78.6,474.1 78.5,471.6" stroke="#8e3fc4"/>
<polyline points="83.4,469.2 83.1,467.5 81.0,466.0 79.2,466.0 81.0,469.1 79.8,468.7 82.8,468.0 85.4,467.3 83.8,468.1 84.1,469.3 85.5,467.5 88.5,467.0 88.6,465.5 91.0,464.7 88.6,463.8 86.9,466.4 89.5,467.2 90.2,464.9" stroke="#1f62d8"/>
<polyline points="88.5,471.1 88.3,468.8 89.6,468.2 88.0,466.3 89.3,464.7 91.9,467.1 90.4,469.5 89.2,470.3 90.3,470.0 92.6,471.6 93.6,471.9 92.2,473.7" stroke="#1f62d8"/>
<polyline points="84.7,472.7 84.2,474.3 82.2,476.6 84.2,475.1 82.3,472.6 80.6,470.3 79.4,471.8 82.3,471.8 83.1,474.1 85.8,473.6 83.5,475.9 82.0,475.7 83.1,474.7 84.0,473.1 82.9,475.4 84.6,473.2 85.7,472.6 84.2,471.2 83.2,469.8 81.5,467.8 82.9,467.4 81.4,466.3 79.2,463.7" stroke="#3a9ee6"/>
<polyline points="80.6,479.7 79.9,477.1 78.1,475.7 80.1,477.0 80.3,480.2 79.0,479.0 79.5,476.5 78.4,478.3 79.6,479.4 81.9,479.5 84.1,476.7 85.2,477.3 84.0,478.6" stroke="#f1be1e"/>
<polyline points="82.3,467.7 85.4,469.1 88.5,470.2 90.5,472.9 92.7,472.6 90.5,474.2 88.6,476.0 89.7,476.6 86.4,477.0 87.7,476.7 90.0,479.4 91.1,479.2 92.3,481.8 89.9,482.1 90.1,485.3" stroke="#62b63f"/>
<polyline points="85.5,490.2 86.5,488.4 85.5,488.6 84.5,489.1 83.8,487.5 85.6,487.5 85.1,485.8 84.7,484.4 83.8,482.0 82.9,480.7 85.5,480.0 85.0,478.4 86.7,481.1 85.7,481.5 87.0,483.9 88.6,483.8 89.6,485.6" stroke="#3a9ee6"/>
<polyline points="81.3,453.0 82.8,453.7 84.4,451.4 85.2,450.7 84.1,452.5 86.2,454.2 86.5,453.1 85.0,454.4 84.1,451.3 84.7,448.9 87.3,447.4 89.4,448.2 88.3,445.7 90.5,447.4 92.5,446.8" stroke="#1f62d8"/>
<polyline points="86.6,468.3 89.1,470.6 87.7,472.6 86.9,475.7 85.2,474.6 86.8,472.2 88.8,472.3 89.5,470.8 88.0,470.0 89.1,470.2 88.7,468.9 87.0,471.4" stroke="#3a9ee6"/>
<polyline points="78.3,471.6 76.5,472.8 76.6,474.4 76.1,476.4 77.9,475.1 76.7,476.7 75.7,476.0 78.3,477.5 78.2,475.7 78.9,472.3 80.3,471.7 78.3,470.4 77.3,469.4 78.3,466.9 77.4,469.1 79.3,466.1 78.5,464.8 76.3,464.7 73.2,463.5 72.1,462.0" stroke="#62b63f"/>
<polyline points="82.2,465.3 83.8,465.3 82.8,466.5 83.6,467.4 85.8,465.5 84.5,462.3 86.4,464.5 88.2,462.3 90.1,463.2 91.5,462.4 90.5,459.6 91.0,458.0 91.2,455.2 91.7,457.2 90.1,460.2 88.7,461.1 87.7,457.7 86.9,459.3 86.1,460.4 88.2,460.6 85.9,461.1 88.2,460.3" stroke="#e3402c"/>
<polyline points="72.3,445.0 73.3,443.9 71.0,442.9 70.5,444.2 72.5,445.8 71.6,445.9 71.3,444.4 68.9,442.9 66.9,444.4 68.1,443.8" stroke="#a8153a"/>
<polyline points="86.2,468.1 87.2,468.9 85.9,467.3 85.5,470.2 83.8,467.3 84.8,467.7 83.4,469.4 82.0,467.6 80.9,465.0 78.3,467.2 81.7,467.8 79.3,465.8 77.7,468.2 78.9,468.2 77.0,467.7 76.1,469.1 77.7,469.2 76.7,468.1" stroke="#f1be1e"/>
<polyline points="85.9,472.1 83.4,473.7 84.4,475.6 82.1,477.2 82.3,480.3 80.9,481.1 80.2,483.6 77.0,484.6 78.9,482.2 77.6,479.5 79.2,480.1 77.1,481.1 75.7,481.1 73.5,483.6 72.6,485.2 73.3,487.3 74.8,485.1 72.6,484.5" stroke="#a8153a"/>
<polyline points="78.1,462.5 79.9,463.6 77.4,463.8 77.7,467.1 76.3,465.7 75.4,465.1 73.2,463.4 76.1,463.7 74.8,466.0 76.6,465.8 75.2,463.4 76.7,462.1 73.8,462.3 74.9,464.7 76.5,462.1 78.4,463.6" stroke="#e3402c"/>
<polyline points="80.7,464.1 79.8,466.0 82.6,467.3 84.0,467.5 83.9,465.6 82.6,464.4 80.4,466.5 80.3,463.5 78.6,466.0 77.6,468.0 76.0,466.8 76.0,467.9 75.8,465.5 77.2,466.3 76.9,467.5 78.5,469.2 80.1,469.4 79.1,470.4 80.3,468.5 77.7,467.9" stroke="#8e3fc4"/>
<polyline points="73.2,464.4 72.8,465.9 74.5,466.0 76.0,464.2 77.2,464.1 77.3,466.5 76.3,466.3 75.9,469.0 75.3,467.8 75.5,464.8 76.5,464.9 76.4,463.8 77.5,466.6" stroke="#3a9ee6"/>
<polyline points="83.2,470.7 81.1,468.6 82.0,467.9 80.8,464.4 83.7,463.9 85.6,464.8 86.3,468.0 85.9,466.2 85.2,467.5 86.1,470.8 87.3,471.4 86.3,473.0 85.9,471.2" stroke="#b450cf"/>
<polyline points="82.0,471.2 84.1,470.0 83.8,473.5 83.6,476.4 84.4,479.8 82.9,477.5 85.4,479.5 82.9,477.9 84.4,479.9 83.0,481.4 80.9,482.7 83.1,481.4" stroke="#1f62d8"/>
<polyline points="81.8,461.3 80.5,462.1 83.5,463.6 82.7,467.0 81.7,467.6 80.1,470.2 81.6,468.4 80.0,467.4 82.6,465.6 82.2,462.1 79.6,461.2 79.8,458.6 78.6,459.0" stroke="#e3402c"/>
<polyline points="75.7,467.6 79.0,467.5 78.1,470.5 80.2,472.1 82.3,472.5 83.9,474.0 84.9,472.3 82.9,469.8 83.9,470.8 81.9,469.4 84.7,469.9 87.5,467.8" stroke="#f1be1e"/>
<polyline points="74.3,459.3 75.9,459.3 77.7,460.6 79.6,460.9 81.9,459.6 82.2,461.4 83.7,460.4 86.5,461.1 87.7,459.9 88.6,459.1 89.1,460.7 87.1,461.5 88.1,458.7 89.8,456.6 91.4,455.1 91.7,453.3 94.6,453.9 93.6,450.6 94.1,448.5 95.6,450.8 98.3,448.6" stroke="#1f62d8"/>
<polyline points="82.5,468.3 84.3,470.6 83.5,469.3 84.0,467.8 85.9,467.9 85.3,466.6 86.0,469.8 83.7,471.8 85.0,472.0 84.1,470.7 86.1,472.6 85.5,470.1 85.4,468.7 88.3,468.1" stroke="#62b63f"/>
<polyline points="85.6,458.8 85.5,457.1 84.7,458.5 83.3,457.8 86.3,457.3 85.4,458.3 85.2,461.1 82.7,462.0 81.8,464.2 82.8,467.5 83.7,468.4 83.9,466.7 82.0,468.3 84.1,468.4 84.5,466.5 83.5,467.3 81.1,468.9 79.3,469.7 80.3,471.5 79.2,470.9 77.0,468.5 76.0,465.1" stroke="#a8153a"/>
<polyline points="83.1,466.9 85.3,466.6 85.8,468.5 86.4,466.5 84.3,467.9 82.1,467.5 79.2,466.3 76.6,464.2 78.9,465.3 81.1,466.2 82.4,468.1 79.7,466.1 78.2,468.7 80.8,466.9 79.5,465.8 81.5,463.4 84.3,463.9 84.8,467.1" stroke="#3a9ee6"/>
<polyline points="78.6,454.4 78.9,452.9 76.0,454.8 75.8,457.4 78.4,459.2 79.7,460.0 81.8,462.7 82.2,460.6 84.1,460.0 84.2,456.8 84.9,459.0 83.0,457.4 83.1,459.8 80.6,459.6 81.5,457.4 79.5,458.0 81.1,457.5 83.5,458.3 80.8,458.7 78.4,458.9" stroke="#e3402c"/>
<polyline points="77.2,465.3 75.1,464.8 73.8,465.6 71.3,465.8 71.6,467.2 71.2,465.9 72.2,468.6 75.4,467.7 77.9,468.3 76.9,469.3 79.1,469.1 80.5,468.5 80.6,467.2 78.6,466.7 79.8,468.8 78.4,470.7 77.3,472.7 76.7,469.0 79.7,469.1 79.2,471.0 79.5,469.1 82.0,467.8 79.6,465.8" stroke="#1f62d8"/>
<polyline points="88.7,460.3 89.2,462.9 90.3,460.9 88.5,459.8 88.0,462.4 85.6,463.6 86.1,464.7 86.8,463.8 88.4,461.0 87.7,459.1 85.6,458.6 85.1,455.7 83.7,453.1" stroke="#f0952a"/>
<polyline points="85.9,470.0 84.3,467.9 82.5,468.6 84.9,469.6 83.7,470.7 86.2,470.5 84.7,472.7 82.6,471.9 84.9,471.2 86.2,471.6 85.0,470.4" stroke="#b450cf"/>
<polyline points="81.3,473.1 83.0,470.8 82.9,469.0 80.1,468.1 81.2,468.6 79.9,470.5 81.8,468.9 82.7,470.2 81.9,469.0 81.0,472.2 82.7,473.3" stroke="#1c9aa0"/>
<polyline points="81.1,488.6 78.8,486.3 77.4,485.0 79.2,482.5 77.8,481.9 78.6,480.6 77.9,479.6 75.1,480.1 77.6,481.9 78.3,485.1 79.9,483.7 81.5,484.2 80.7,486.0" stroke="#3a9ee6"/>
<polyline points="82.5,463.3 81.4,466.4 81.7,467.7 80.1,466.6 80.8,463.0 82.9,462.3 83.1,466.0 84.4,464.2 84.4,465.5 84.6,462.0 85.8,460.3 85.2,458.2 86.2,457.6 89.0,457.7 88.8,459.4 88.8,456.8 88.9,454.5 90.6,455.4" stroke="#e3402c"/>
<polyline points="93.3,466.8 93.4,464.3 92.9,467.1 91.2,466.3 89.5,465.9 87.2,465.2 86.8,466.9 85.6,467.5 87.3,466.9 86.7,466.1 88.3,465.1 90.9,466.2" stroke="#f0952a"/>
<polyline points="79.6,470.6 79.5,474.2 77.8,473.2 80.3,471.3 81.4,470.6 79.4,471.6 78.7,473.3 78.9,474.7 79.5,471.9 81.0,470.9 80.6,473.8 80.3,472.4 78.6,470.0 77.7,468.9 77.1,471.4 79.9,473.2 81.7,474.4 82.3,476.2 81.5,474.2 84.3,475.6 84.4,473.5 83.1,472.0 81.6,470.6" stroke="#3a9ee6"/>
<polyline points="92.2,460.0 94.2,458.1 96.4,457.1 95.2,458.4 95.9,456.7 93.5,455.7 94.5,452.9 95.8,453.5 94.4,452.0 96.7,450.4 98.6,449.8 99.6,449.1 102.5,449.7 103.9,449.0 102.8,447.1 105.1,445.4" stroke="#f0952a"/>
<polyline points="89.2,464.1 88.1,461.7 85.8,463.7 83.1,463.8 83.8,464.8 84.9,463.7 83.3,465.7 82.9,468.5 84.8,467.7 83.8,470.8 83.6,474.0 83.8,476.4 82.5,478.4" stroke="#e3402c"/>
<polyline points="71.7,470.8 69.5,471.7 69.2,473.6 68.2,472.6 67.0,473.9 67.3,475.0 67.3,476.5 69.2,478.7 68.5,477.6 68.8,476.2 71.4,476.6" stroke="#8e3fc4"/>
<polyline points="84.7,471.9 86.4,469.1 87.9,471.3 85.2,472.1 82.7,472.7 85.2,474.2 85.1,472.9 86.9,473.8 87.2,475.5 85.4,474.8 85.0,478.4 82.6,478.5 81.7,477.1 82.9,477.5 85.3,478.6 88.2,477.0 90.1,475.5" stroke="#62b63f"/>
<polyline points="72.1,471.0 70.5,472.3 73.1,473.2 73.9,471.8 75.7,469.7 77.8,471.2 75.9,471.9 78.3,471.2 79.5,473.1 80.8,470.8 81.9,470.0 83.3,468.7 82.8,470.6" stroke="#8e3fc4"/>
<polyline points="83.1,471.1 82.2,469.9 83.9,470.7 84.2,473.7 85.1,474.3 84.2,472.4 86.9,470.7 85.6,467.9 84.5,468.1 83.2,467.0 84.5,466.6 83.6,467.3" stroke="#f0952a"/>
<polyline points="83.4,467.9 83.6,470.9 86.4,469.9 87.2,468.6 88.3,468.3 89.7,469.8 90.7,469.2 92.1,471.4 93.1,472.0 94.4,470.8 94.8,469.4 95.6,466.8 96.3,465.4" stroke="#b450cf"/>
<polyline points="76.4,457.0 75.6,458.5 75.4,456.7 75.0,458.2 73.1,457.3 75.7,457.0 76.5,459.1 76.0,456.5 74.8,458.3 72.8,459.1" stroke="#3a9ee6"/>
<polyline points="81.5,457.2 81.0,458.6 79.1,458.1 78.0,455.4 78.5,452.5 78.8,455.1 79.8,454.4 80.9,457.5 81.0,454.9 81.2,458.0 82.1,456.9 84.3,455.8 82.8,453.7 84.0,451.6" stroke="#e3402c"/>
<polyline points="89.6,460.7 87.5,458.5 87.9,456.7 86.5,458.8 86.6,460.3 85.5,458.0 84.5,457.5 86.4,456.7 84.2,457.4 82.3,458.4 79.3,458.2 79.9,455.6 78.5,457.2 77.5,459.0 76.7,461.9 74.5,461.8 73.4,463.3 70.8,461.9 71.6,461.4" stroke="#f0952a"/>
<polyline points="85.3,468.2 84.9,466.5 87.0,469.0 85.9,471.7 85.8,474.0 84.0,472.4 86.4,475.0 89.0,476.6 90.5,475.8 92.7,476.3 91.0,476.5 92.4,478.4 93.7,478.5 94.7,478.5 95.9,476.8 95.1,477.9 92.1,479.2 89.5,478.0" stroke="#a8153a"/>
<polyline points="81.4,473.1 79.1,474.0 80.8,476.2 82.5,476.5 82.9,479.3 81.9,479.0 80.2,478.8 78.4,480.2 77.2,480.3 78.9,478.3 77.5,481.7 78.0,483.5 75.8,482.9 76.5,484.9 78.4,486.0 76.7,484.6 74.6,481.7" stroke="#1c9aa0"/>
<polyline points="80.2,458.5 81.2,459.7 79.7,460.3 80.9,457.9 81.0,459.7 78.9,458.4 78.6,460.5 79.4,459.7 80.8,457.1 78.4,457.0 77.3,455.6 78.7,452.6 77.7,453.4 77.0,455.7 75.1,457.6 72.9,459.6 74.7,460.0 73.6,461.5 72.2,460.5" stroke="#1f62d8"/>
<polyline points="79.4,472.2 80.1,469.5 82.1,471.6 82.9,468.9 82.0,468.4 81.0,466.7 79.8,468.1 77.7,469.9 78.3,468.5 77.5,470.7 78.4,469.7 80.7,470.7 79.8,469.4 82.5,469.5 82.3,471.6 81.6,469.5 83.1,467.3 80.5,465.8 78.7,464.5 75.4,464.7 73.9,462.2" stroke="#f1be1e"/>
<polyline points="83.9,464.3 83.6,463.2 82.3,461.5 83.0,460.1 83.6,458.9 83.0,460.4 80.0,461.4 82.0,463.7 79.5,462.6 79.6,459.4 78.5,458.0 76.3,457.1 79.2,457.1 80.1,458.7 79.6,456.6" stroke="#a8153a"/>
<polyline points="87.0,464.9 85.8,464.3 84.6,461.6 85.8,461.0 87.1,463.4 85.9,463.9 87.2,462.5 89.4,463.3 90.8,464.1 88.8,462.8 89.5,464.0 91.0,465.7 93.0,465.3 91.1,463.3 93.1,464.3 92.4,466.3 92.6,467.7 92.6,469.3 91.3,470.2 90.5,468.9 89.0,466.7" stroke="#62b63f"/>
<polyline points="83.9,469.7 82.5,471.5 81.4,471.6 78.5,470.1 79.0,471.6 76.9,471.1 76.1,472.7 74.6,473.4 74.2,476.5 71.7,477.2 74.0,478.6 75.2,479.0 73.1,480.7 70.4,479.1 69.0,479.6 68.1,481.4" stroke="#1c9aa0"/>
<polyline points="70.1,454.7 71.2,455.9 69.5,455.2 70.5,455.0 70.9,457.0 69.4,457.0 69.4,459.0 70.1,461.6 71.8,463.1 71.0,464.8 69.1,465.3 66.7,465.7 67.3,466.5 67.3,468.8" stroke="#b450cf"/>
<polyline points="82.7,466.5 81.6,466.7 82.0,463.6 78.9,464.5 75.5,464.5 77.2,461.7 76.7,463.3 74.0,461.5 72.4,460.0 73.4,456.7 75.8,456.6 74.5,458.6 75.3,460.5 73.7,457.2 76.2,455.2 77.2,458.6 78.3,457.4 77.4,456.5" stroke="#1f62d8"/>
<polyline points="86.7,464.9 86.8,468.4 87.7,466.9 89.8,467.2 88.7,465.6 87.4,465.5 89.4,467.9 86.5,466.8 88.0,469.5 85.4,468.4 84.3,467.4 86.1,464.7" stroke="#3a9ee6"/>
<polyline points="82.2,463.6 80.8,463.6 79.6,461.3 78.8,458.3 80.9,458.7 78.5,460.7 77.1,460.3 80.2,461.6 83.0,461.1 82.0,460.4 82.8,459.0 82.7,460.7 84.2,460.5 84.9,462.8 83.6,464.7 84.1,463.6 83.7,462.5 83.5,459.7 82.1,458.0 80.8,459.4 78.9,456.7" stroke="#8e3fc4"/>
<polyline points="88.3,467.5 88.4,465.2 85.6,465.3 85.0,466.2 84.9,464.3 83.7,462.2 81.7,460.9 82.4,462.1 80.0,461.1 77.5,462.0 79.4,462.6 81.2,463.4 84.2,464.0 81.9,464.7 79.9,463.7 79.4,461.6 78.6,459.2 76.9,459.0 79.3,460.3 79.2,461.5 79.6,464.1 78.2,465.8" stroke="#3a9ee6"/>
<polyline points="83.9,477.6 86.1,477.6 85.1,476.7 86.3,475.2 85.8,477.9 85.2,479.4 82.3,480.4 80.5,480.1 78.3,482.6 78.9,484.0 81.2,482.6" stroke="#62b63f"/>
<polyline points="87.0,467.2 90.0,467.4 88.9,468.3 89.7,470.0 91.0,471.0 88.3,472.5 89.2,470.1 90.2,469.6 91.6,466.2 94.0,467.3 93.1,464.6 93.0,466.7 90.5,468.5 92.0,468.3 90.7,468.0 88.9,466.3 89.9,464.1 89.7,461.5 88.5,459.0 91.0,458.3 93.0,455.5 91.3,456.9" stroke="#e3402c"/>
<polyline points="92.1,467.0 89.8,465.6 90.2,461.9 91.0,458.6 88.0,459.9 91.0,458.4 92.0,459.1 95.2,458.3 94.0,457.6 95.2,457.0 93.7,456.9 93.1,455.5 95.0,453.1" stroke="#8e3fc4"/>
<polyline points="76.2,454.1 77.0,455.3 74.5,454.0 73.5,456.3 73.9,453.3 72.5,453.0 70.4,453.3 68.2,454.7 69.4,455.6 68.6,456.3 68.9,454.6 68.9,458.0 69.2,455.1" stroke="#e3402c"/>
<polyline points="92.7,467.6 89.8,466.5 89.3,468.8 88.9,467.4 89.3,470.7 90.8,473.2 92.0,474.1 89.7,476.7 89.7,480.3 89.8,482.9 91.1,482.0 90.1,481.0 89.5,479.3 87.0,478.8 85.2,478.1 87.2,476.4 88.9,474.4 89.6,472.9 91.6,472.4 91.3,473.7 94.5,473.0" stroke="#e3402c"/>
<polyline points="88.8,477.1 90.5,477.5 88.8,474.7 87.7,471.9 86.8,474.7 89.7,475.4 91.1,473.1 88.7,473.0 87.5,471.6 87.5,474.1 87.7,472.3 87.0,470.9 85.7,471.0 86.8,470.5 88.9,468.7 90.5,467.2 90.8,469.6 92.4,466.7 93.2,467.6 93.2,465.2 93.7,467.2 93.4,469.0" stroke="#f0952a"/>
<polyline points="78.2,455.1 78.0,452.1 80.2,451.8 82.0,451.4 80.5,450.5 81.8,451.3 83.2,453.0 85.4,452.4 84.2,455.7 80.9,455.0 82.7,456.4 81.8,458.5 83.6,460.3 82.5,463.2 80.3,462.2 81.5,464.5" stroke="#1f62d8"/>
<polyline points="76.0,464.4 74.6,465.1 74.1,466.4 73.5,463.8 75.2,463.2 72.5,464.6 73.8,461.8 71.9,463.2 70.9,466.4 68.7,466.9 66.2,467.5 65.0,467.4 67.2,466.3 69.7,467.3 72.1,468.5 71.5,466.5" stroke="#1f62d8"/>
<polyline points="84.0,472.5 84.9,473.8 83.7,474.4 86.2,474.7 88.2,472.5 88.0,470.9 88.8,468.3 88.1,465.6 90.2,466.0 89.2,469.0 90.7,469.8 90.5,468.0 89.5,469.8 88.9,471.2 90.8,468.1 91.8,469.3" stroke="#f0952a"/>
<polyline points="91.5,467.4 89.8,464.9 91.4,464.1 90.4,466.8 91.3,468.7 91.1,466.6 90.0,466.9 88.2,464.9 89.2,463.3 91.5,465.9 91.5,464.3 92.4,463.3 93.2,466.3 93.0,463.9 92.6,465.0" stroke="#a8153a"/>
<polyline points="86.3,458.4 85.2,460.9 87.8,460.1 88.6,459.1 87.5,458.9 89.3,458.0 88.0,457.7 90.9,458.7 88.5,458.4 87.2,455.1 88.5,453.7 89.0,450.4 87.0,450.5 84.5,448.5" stroke="#a8153a"/>
<polyline points="78.7,457.5 77.8,457.5 76.8,456.9 76.8,459.2 76.9,457.1 75.3,457.0 73.4,457.2 73.3,455.8 71.5,457.8 71.0,459.0 69.7,456.9 70.8,454.6 69.5,454.6 68.3,455.8 67.6,454.2 67.3,453.0" stroke="#1f62d8"/>
<polyline points="83.4,474.1 86.0,475.0 86.1,473.5 88.3,475.5 87.0,477.0 86.7,474.1 84.4,475.2 82.6,477.5 83.2,475.8 86.3,476.3 87.1,477.1 88.7,476.4 86.5,475.2" stroke="#3a9ee6"/>
<polyline points="91.8,461.4 90.9,460.2 93.4,461.1 94.7,459.3 96.6,456.6 99.9,457.2 101.9,458.4 99.5,457.3 101.8,455.8 99.4,458.1 100.3,459.1 101.3,457.8 100.9,459.0 103.8,460.2 106.5,458.4" stroke="#62b63f"/>
<polyline points="76.9,466.6 77.2,463.9 75.2,465.0 77.6,464.4 75.3,463.5 72.7,465.5 73.9,463.6 76.7,463.7 75.6,460.9 77.6,461.1 78.5,462.2 80.7,462.3 81.0,459.0 79.1,461.9 80.4,464.7 77.1,465.0 79.9,463.6 79.5,465.4 80.3,467.6" stroke="#f0952a"/>
<polyline points="84.3,469.7 86.0,467.6 88.0,469.6 90.0,470.3 89.1,469.3 88.7,465.7 90.0,465.0 89.3,464.0 88.8,462.5 90.4,460.7 88.1,461.4 88.3,463.9 89.5,464.3 89.7,463.0" stroke="#8e3fc4"/>
<polyline points="78.8,474.3 76.9,473.2 75.6,471.5 74.5,471.1 75.1,472.2 72.8,472.7 71.6,471.6 73.1,470.4 72.3,468.2 72.6,465.1 71.5,465.0 68.8,463.0" stroke="#f1be1e"/>
<polyline points="79.7,460.3 78.8,457.1 80.7,459.0 79.4,457.6 80.3,458.4 79.8,460.0 80.9,459.4 78.5,460.2 79.6,459.6 77.6,459.1 79.4,459.6 80.3,462.3 80.0,459.9 78.9,459.7 77.6,460.9 77.5,459.1 74.4,459.6 75.4,459.7 72.5,460.7 72.6,462.1" stroke="#f0952a"/>
<polyline points="75.0,467.7 73.3,467.7 74.4,465.8 73.0,465.6 72.2,467.1 73.7,466.0 72.5,465.3 70.1,466.7 67.6,467.7 69.5,467.4 68.8,466.4 67.8,465.7 65.4,465.6 63.6,465.2 63.6,464.0" stroke="#f0952a"/>
<polyline points="91.2,467.5 89.6,464.4 88.9,466.6 86.7,466.0 84.4,466.3 84.0,465.0 87.2,464.5 89.4,462.4 88.2,464.4 89.8,465.7 91.3,463.6 88.5,463.9 86.7,461.0 85.1,460.9 83.8,459.9 81.9,462.3 81.9,464.0 82.2,462.3 83.6,463.1 84.8,461.6 85.7,462.4 88.8,460.9" stroke="#1f62d8"/>
<polyline points="81.5,463.8 82.9,462.4 85.1,462.0 83.2,461.8 82.2,458.8 83.1,460.4 81.1,458.6 81.5,462.3 79.4,460.4 76.6,461.3 77.5,460.1 80.0,457.8 80.0,455.4 81.3,454.1 83.7,453.7 85.2,451.6 85.0,449.9 83.1,449.6 83.0,448.3 85.9,447.0 85.4,445.7 86.3,443.5 87.9,443.6" stroke="#f0952a"/>
<polyline points="87.2,456.6 90.7,453.5 94.0,450.3 96.9,448.8 99.2,444.6 103.0,444.1 102.1,447.7 104.4,449.8 108.7,449.3 113.0,447.2 112.0,450.9 109.2,451.9" stroke="#e3402c"/>
<polyline points="66.1,447.2 69.0,449.8 70.9,445.1 74.2,446.7 76.5,444.1 79.4,447.7 82.2,446.2" stroke="#a8153a"/>
<polyline points="83.6,474.9 81.3,480.2 78.0,482.8 78.9,488.0 75.1,491.7 77.5,495.3 81.3,496.9 82.7,501.1 80.3,504.7 82.7,507.4 86.9,504.2 89.8,507.9" stroke="#3a9ee6"/>
<polyline points="87.4,474.9 87.9,485.4 88.4,495.8 88.4,506.3 88.8,510.5" stroke="#e0507a"/>
<polyline points="93.1,472.3 97.8,474.9 101.6,472.3 104.0,476.5 106.3,478.6 108.2,475.5 110.6,479.6 108.7,481.7" stroke="#b450cf"/>
<polyline points="78.9,471.0 74.2,472.3 69.4,473.9 63.3,473.4 61.4,476.5 65.7,479.1 70.4,477.5" stroke="#62b63f"/>
<polyline points="88.4,461.9 93.1,457.7 97.8,455.6 101.6,450.9" stroke="#3a9ee6"/>
</g>
<line x1="38.5" y1="469.70" x2="132.6" y2="469.70" stroke="#222" stroke-width="1" stroke-dasharray="0.9 0.82"/>
<line x1="86.00" y1="417.40" x2="86.00" y2="522.00" stroke="#222" stroke-width="1" stroke-dasharray="0.9 0.82"/>
<line x1="38.50" y1="417.40" x2="38.50" y2="522.00" stroke="#151515" stroke-width="1.3"/>
<line x1="38.50" y1="522.00" x2="133.30" y2="522.00" stroke="#151515" stroke-width="1.3"/>
<line x1="36.30" y1="522.00" x2="38.50" y2="522.00" stroke="#151515" stroke-width="1.3"/>
<text x="35.80" y="525.33" font-size="9.4" text-anchor="end" textLength="11.96" lengthAdjust="spacingAndGlyphs">-20</text>
<line x1="36.30" y1="508.93" x2="38.50" y2="508.93" stroke="#151515" stroke-width="1.3"/>
<text x="35.80" y="512.25" font-size="9.4" text-anchor="end" textLength="11.96" lengthAdjust="spacingAndGlyphs">-15</text>
<line x1="36.30" y1="495.85" x2="38.50" y2="495.85" stroke="#151515" stroke-width="1.3"/>
<text x="35.80" y="499.18" font-size="9.4" text-anchor="end" textLength="11.96" lengthAdjust="spacingAndGlyphs">-10</text>
<line x1="36.30" y1="482.77" x2="38.50" y2="482.77" stroke="#151515" stroke-width="1.3"/>
<text x="35.80" y="486.10" font-size="9.4" text-anchor="end" textLength="7.36" lengthAdjust="spacingAndGlyphs">-5</text>
<line x1="36.30" y1="469.70" x2="38.50" y2="469.70" stroke="#151515" stroke-width="1.3"/>
<text x="35.80" y="473.03" font-size="9.4" text-anchor="end" textLength="4.60" lengthAdjust="spacingAndGlyphs">0</text>
<line x1="36.30" y1="456.62" x2="38.50" y2="456.62" stroke="#151515" stroke-width="1.3"/>
<text x="35.80" y="459.95" font-size="9.4" text-anchor="end" textLength="4.60" lengthAdjust="spacingAndGlyphs">5</text>
<line x1="36.30" y1="443.55" x2="38.50" y2="443.55" stroke="#151515" stroke-width="1.3"/>
<text x="35.80" y="446.88" font-size="9.4" text-anchor="end" textLength="9.20" lengthAdjust="spacingAndGlyphs">10</text>
<line x1="36.30" y1="430.47" x2="38.50" y2="430.47" stroke="#151515" stroke-width="1.3"/>
<text x="35.80" y="433.80" font-size="9.4" text-anchor="end" textLength="9.20" lengthAdjust="spacingAndGlyphs">15</text>
<line x1="36.30" y1="417.40" x2="38.50" y2="417.40" stroke="#151515" stroke-width="1.3"/>
<text x="35.80" y="420.73" font-size="9.4" text-anchor="end" textLength="9.20" lengthAdjust="spacingAndGlyphs">20</text>
<line x1="38.70" y1="522.00" x2="38.70" y2="523.80" stroke="#151515" stroke-width="1.3"/>
<text x="39.30" y="531.80" font-size="9.2" text-anchor="middle" textLength="11.97" lengthAdjust="spacingAndGlyphs">-20</text>
<line x1="62.35" y1="522.00" x2="62.35" y2="523.80" stroke="#151515" stroke-width="1.3"/>
<text x="62.95" y="531.80" font-size="9.2" text-anchor="middle" textLength="11.97" lengthAdjust="spacingAndGlyphs">-10</text>
<line x1="86.00" y1="522.00" x2="86.00" y2="523.80" stroke="#151515" stroke-width="1.3"/>
<text x="86.00" y="531.80" font-size="9.2" text-anchor="middle" textLength="4.60" lengthAdjust="spacingAndGlyphs">0</text>
<line x1="109.65" y1="522.00" x2="109.65" y2="523.80" stroke="#151515" stroke-width="1.3"/>
<text x="109.65" y="531.80" font-size="9.2" text-anchor="middle" textLength="9.21" lengthAdjust="spacingAndGlyphs">10</text>
<line x1="133.30" y1="522.00" x2="133.30" y2="523.80" stroke="#151515" stroke-width="1.3"/>
<text x="133.30" y="531.80" font-size="9.2" text-anchor="middle" textLength="9.21" lengthAdjust="spacingAndGlyphs">20</text>
<text x="85.60" y="541.00" font-size="9.2" text-anchor="middle" textLength="19.60" lengthAdjust="spacingAndGlyphs">x(µm)</text>
<text class="yl" transform="translate(24.40,480.10) rotate(-90)" font-size="9.8" textLength="21.80" lengthAdjust="spacingAndGlyphs" fill="#111">y (µm)</text>
<rect x="201.90" y="414.80" width="32.00" height="56.70" fill="#c62238"/>
<rect x="252.30" y="384.80" width="32.00" height="86.70" fill="#0f5688"/>
<line x1="218.30" y1="392.50" x2="218.30" y2="463.20" stroke="#111" stroke-width="1.1"/>
<line x1="210.00" y1="392.50" x2="226.70" y2="392.50" stroke="#111" stroke-width="1.1"/>
<line x1="210.00" y1="463.20" x2="226.70" y2="463.20" stroke="#111" stroke-width="1.1"/>
<line x1="268.00" y1="363.80" x2="268.00" y2="434.50" stroke="#111" stroke-width="1.1"/>
<line x1="259.60" y1="363.80" x2="276.20" y2="363.80" stroke="#111" stroke-width="1.1"/>
<line x1="259.60" y1="434.50" x2="276.20" y2="434.50" stroke="#111" stroke-width="1.1"/>
<line x1="185.50" y1="304.40" x2="185.50" y2="475.40" stroke="#151515" stroke-width="1.3"/>
<line x1="185.50" y1="471.50" x2="301.30" y2="471.50" stroke="#151515" stroke-width="1.3"/>
<line x1="182.20" y1="471.50" x2="185.50" y2="471.50" stroke="#151515" stroke-width="1.3"/>
<text x="178.40" y="474.92" font-size="8.8" text-anchor="end" textLength="10.40" lengthAdjust="spacingAndGlyphs">0.0</text>
<line x1="182.20" y1="415.80" x2="185.50" y2="415.80" stroke="#151515" stroke-width="1.3"/>
<text x="178.40" y="419.22" font-size="8.8" text-anchor="end" textLength="10.40" lengthAdjust="spacingAndGlyphs">5.0</text>
<line x1="182.20" y1="360.10" x2="185.50" y2="360.10" stroke="#151515" stroke-width="1.3"/>
<text x="178.40" y="363.52" font-size="8.8" text-anchor="end" textLength="10.40" lengthAdjust="spacingAndGlyphs">1.0</text>
<line x1="182.20" y1="304.40" x2="185.50" y2="304.40" stroke="#151515" stroke-width="1.3"/>
<text x="178.40" y="307.82" font-size="8.8" text-anchor="end" textLength="10.40" lengthAdjust="spacingAndGlyphs">1.5</text>
<line x1="217.80" y1="471.50" x2="217.80" y2="475.40" stroke="#151515" stroke-width="1.3"/>
<line x1="269.10" y1="471.50" x2="269.10" y2="475.40" stroke="#151515" stroke-width="1.3"/>
<text x="210.00" y="490.40" font-size="10.3" textLength="15.60" lengthAdjust="spacingAndGlyphs">Pre</text>
<text x="241.80" y="490.40" font-size="10.3" textLength="52.60" lengthAdjust="spacingAndGlyphs">Post rTNFα</text>
<line x1="218.30" y1="345.80" x2="270.90" y2="345.80" stroke="#5a5a5a" stroke-width="1.3"/>
<circle cx="239.93" cy="341.30" r="1.15" fill="#111"/>
<circle cx="243.18" cy="341.30" r="1.15" fill="#111"/>
<circle cx="246.43" cy="341.30" r="1.15" fill="#111"/>
<circle cx="249.68" cy="341.30" r="1.15" fill="#111"/>
<text class="yl" transform="translate(162.30,429.00) rotate(-90)" font-size="10.5" textLength="83.20" lengthAdjust="spacingAndGlyphs" fill="#111">Track velocity micron/sec</text>
<text x="322.10" y="269.20" font-size="13" font-weight="bold" textLength="8.70" lengthAdjust="spacingAndGlyphs" fill="#000">D</text>
<line x1="352.60" y1="300.30" x2="352.60" y2="473.20" stroke="#151515" stroke-width="1.3"/>
<line x1="352.60" y1="469.90" x2="471.00" y2="469.90" stroke="#151515" stroke-width="1.3"/>
<line x1="349.00" y1="300.30" x2="352.60" y2="300.30" stroke="#151515" stroke-width="1.3"/>
<text x="335.12" y="303.45" font-size="8.9" textLength="9.11" lengthAdjust="spacingAndGlyphs">10</text>
<text x="344.63" y="299.20" font-size="4.8" textLength="2.27" lengthAdjust="spacingAndGlyphs">1</text>
<line x1="349.00" y1="334.22" x2="352.60" y2="334.22" stroke="#151515" stroke-width="1.3"/>
<text x="335.12" y="337.37" font-size="8.9" textLength="9.11" lengthAdjust="spacingAndGlyphs">10</text>
<text x="344.63" y="333.12" font-size="4.8" textLength="2.27" lengthAdjust="spacingAndGlyphs">0</text>
<line x1="349.00" y1="368.14" x2="352.60" y2="368.14" stroke="#151515" stroke-width="1.3"/>
<text x="333.76" y="371.29" font-size="8.9" textLength="9.11" lengthAdjust="spacingAndGlyphs">10</text>
<text x="343.27" y="367.04" font-size="4.8" textLength="3.63" lengthAdjust="spacingAndGlyphs">-1</text>
<line x1="349.00" y1="402.06" x2="352.60" y2="402.06" stroke="#151515" stroke-width="1.3"/>
<text x="333.76" y="405.21" font-size="8.9" textLength="9.11" lengthAdjust="spacingAndGlyphs">10</text>
<text x="343.27" y="400.96" font-size="4.8" textLength="3.63" lengthAdjust="spacingAndGlyphs">-2</text>
<line x1="349.00" y1="435.98" x2="352.60" y2="435.98" stroke="#151515" stroke-width="1.3"/>
<text x="333.76" y="439.13" font-size="8.9" textLength="9.11" lengthAdjust="spacingAndGlyphs">10</text>
<text x="343.27" y="434.88" font-size="4.8" textLength="3.63" lengthAdjust="spacingAndGlyphs">-3</text>
<line x1="349.00" y1="469.90" x2="352.60" y2="469.90" stroke="#151515" stroke-width="1.3"/>
<text x="333.76" y="473.05" font-size="8.9" textLength="9.11" lengthAdjust="spacingAndGlyphs">10</text>
<text x="343.27" y="468.80" font-size="4.8" textLength="3.63" lengthAdjust="spacingAndGlyphs">-4</text>
<line x1="383.30" y1="469.90" x2="383.30" y2="473.20" stroke="#151515" stroke-width="1.3"/>
<line x1="434.60" y1="469.90" x2="434.60" y2="473.20" stroke="#151515" stroke-width="1.3"/>
<text x="383.50" y="489.20" font-size="10.2" text-anchor="middle" textLength="16.40" lengthAdjust="spacingAndGlyphs">WT</text>
<text x="422.50" y="489.20" font-size="10.2" textLength="26.80" lengthAdjust="spacingAndGlyphs">IL-6-/-</text>
<text class="yl" transform="translate(330.60,416.80) rotate(-90)" font-size="10.4" textLength="65.00" lengthAdjust="spacingAndGlyphs" fill="#111">%GFP<tspan font-size="6.24" dy="-3.95">+</tspan><tspan dy="3.95"> tumor cells</tspan></text>
<line x1="369.10" y1="292.50" x2="423.90" y2="292.50" stroke="#5a5a5a" stroke-width="1.3"/>
<text x="390.50" y="288.90" font-size="7.6" textLength="11.80" lengthAdjust="spacingAndGlyphs">n.s.</text>
<line x1="404.00" y1="281.70" x2="458.40" y2="281.70" stroke="#5a5a5a" stroke-width="1.3"/>
<circle cx="431.30" cy="273.60" r="1.15" fill="#111"/>
<line x1="463.40" y1="317.40" x2="481.20" y2="317.40" stroke="#151515" stroke-width="1.2"/>
<circle cx="472.30" cy="317.40" r="3.4" fill="#c62238"/>
<text x="485.80" y="320.10" font-size="8.6" textLength="22.40" lengthAdjust="spacingAndGlyphs">inj BM</text>
<line x1="463.40" y1="339.50" x2="481.20" y2="339.50" stroke="#151515" stroke-width="1.2"/>
<rect x="468.90" y="336.10" width="6.8" height="6.8" fill="#0f5688"/>
<text x="485.80" y="342.00" font-size="8.6" textLength="25.40" lengthAdjust="spacingAndGlyphs">CL BM</text>
<line x1="369.70" y1="309.90" x2="397.20" y2="346.00" stroke="#1a1a1a" stroke-width="1.0"/>
<line x1="369.70" y1="315.00" x2="397.20" y2="349.50" stroke="#1a1a1a" stroke-width="1.0"/>
<line x1="369.70" y1="318.00" x2="397.20" y2="353.00" stroke="#1a1a1a" stroke-width="1.0"/>
<line x1="369.70" y1="321.00" x2="397.20" y2="357.00" stroke="#1a1a1a" stroke-width="1.0"/>
<line x1="369.70" y1="324.00" x2="397.20" y2="360.50" stroke="#1a1a1a" stroke-width="1.0"/>
<line x1="369.70" y1="326.80" x2="397.20" y2="373.50" stroke="#1a1a1a" stroke-width="1.0"/>
<line x1="369.70" y1="329.00" x2="397.20" y2="381.00" stroke="#1a1a1a" stroke-width="1.0"/>
<line x1="369.70" y1="331.10" x2="397.20" y2="387.00" stroke="#1a1a1a" stroke-width="1.0"/>
<line x1="423.90" y1="304.30" x2="451.40" y2="344.50" stroke="#1a1a1a" stroke-width="1.0"/>
<line x1="423.90" y1="307.50" x2="451.40" y2="349.50" stroke="#1a1a1a" stroke-width="1.0"/>
<line x1="423.90" y1="310.50" x2="451.40" y2="369.00" stroke="#1a1a1a" stroke-width="1.0"/>
<line x1="423.90" y1="313.50" x2="451.40" y2="374.50" stroke="#1a1a1a" stroke-width="1.0"/>
<line x1="423.90" y1="316.50" x2="451.40" y2="398.20" stroke="#1a1a1a" stroke-width="1.0"/>
<line x1="423.90" y1="319.50" x2="451.40" y2="410.50" stroke="#1a1a1a" stroke-width="1.0"/>
<line x1="423.90" y1="322.50" x2="451.40" y2="416.00" stroke="#1a1a1a" stroke-width="1.0"/>
<line x1="423.90" y1="325.80" x2="451.40" y2="460.50" stroke="#1a1a1a" stroke-width="1.0"/>
<line x1="424.30" y1="369.00" x2="451.40" y2="436.70" stroke="#1a1a1a" stroke-width="1.0"/>
<circle cx="369.70" cy="309.90" r="3.3" fill="#c62238"/>
<circle cx="369.70" cy="315.00" r="3.3" fill="#c62238"/>
<circle cx="369.70" cy="318.00" r="3.3" fill="#c62238"/>
<circle cx="369.70" cy="321.00" r="3.3" fill="#c62238"/>
<circle cx="369.70" cy="324.00" r="3.3" fill="#c62238"/>
<circle cx="369.70" cy="326.80" r="3.3" fill="#c62238"/>
<circle cx="369.70" cy="329.00" r="3.3" fill="#c62238"/>
<circle cx="369.70" cy="331.10" r="3.3" fill="#c62238"/>
<circle cx="423.90" cy="304.30" r="3.3" fill="#c62238"/>
<circle cx="423.90" cy="307.50" r="3.3" fill="#c62238"/>
<circle cx="423.90" cy="310.50" r="3.3" fill="#c62238"/>
<circle cx="423.90" cy="313.50" r="3.3" fill="#c62238"/>
<circle cx="423.90" cy="316.50" r="3.3" fill="#c62238"/>
<circle cx="423.90" cy="319.50" r="3.3" fill="#c62238"/>
<circle cx="423.90" cy="322.50" r="3.3" fill="#c62238"/>
<circle cx="423.90" cy="325.80" r="3.3" fill="#c62238"/>
<circle cx="424.30" cy="369.00" r="3.3" fill="#c62238"/>
<rect x="393.90" y="342.70" width="6.6" height="6.6" fill="#0f5688"/>
<rect x="393.90" y="346.20" width="6.6" height="6.6" fill="#0f5688"/>
<rect x="393.90" y="349.70" width="6.6" height="6.6" fill="#0f5688"/>
<rect x="393.90" y="353.70" width="6.6" height="6.6" fill="#0f5688"/>
<rect x="393.90" y="357.20" width="6.6" height="6.6" fill="#0f5688"/>
<rect x="393.90" y="370.20" width="6.6" height="6.6" fill="#0f5688"/>
<rect x="393.90" y="377.70" width="6.6" height="6.6" fill="#0f5688"/>
<rect x="393.90" y="383.70" width="6.6" height="6.6" fill="#0f5688"/>
<rect x="448.10" y="341.20" width="6.6" height="6.6" fill="#0f5688"/>
<rect x="448.10" y="346.20" width="6.6" height="6.6" fill="#0f5688"/>
<rect x="448.10" y="365.70" width="6.6" height="6.6" fill="#0f5688"/>
<rect x="448.10" y="371.20" width="6.6" height="6.6" fill="#0f5688"/>
<rect x="448.10" y="394.90" width="6.6" height="6.6" fill="#0f5688"/>
<rect x="448.10" y="407.20" width="6.6" height="6.6" fill="#0f5688"/>
<rect x="448.10" y="412.70" width="6.6" height="6.6" fill="#0f5688"/>
<rect x="448.10" y="457.20" width="6.6" height="6.6" fill="#0f5688"/>
<rect x="448.10" y="433.40" width="6.6" height="6.6" fill="#0f5688"/>
<text x="9.00" y="568.00" font-size="13" font-weight="bold" fill="#000">E</text>
<line x1="42.00" y1="576.00" x2="42.00" y2="752.30" stroke="#151515" stroke-width="1.3"/>
<line x1="42.00" y1="748.80" x2="151.00" y2="748.80" stroke="#151515" stroke-width="1.3"/>
<line x1="38.60" y1="576.00" x2="42.00" y2="576.00" stroke="#151515" stroke-width="1.3"/>
<text x="24.22" y="578.95" font-size="8.9" textLength="9.11" lengthAdjust="spacingAndGlyphs">10</text>
<text x="33.73" y="574.70" font-size="4.8" textLength="2.27" lengthAdjust="spacingAndGlyphs">0</text>
<line x1="38.60" y1="604.80" x2="42.00" y2="604.80" stroke="#151515" stroke-width="1.3"/>
<text x="22.86" y="607.75" font-size="8.9" textLength="9.11" lengthAdjust="spacingAndGlyphs">10</text>
<text x="32.37" y="603.50" font-size="4.8" textLength="3.63" lengthAdjust="spacingAndGlyphs">-1</text>
<line x1="38.60" y1="633.60" x2="42.00" y2="633.60" stroke="#151515" stroke-width="1.3"/>
<text x="22.86" y="636.55" font-size="8.9" textLength="9.11" lengthAdjust="spacingAndGlyphs">10</text>
<text x="32.37" y="632.30" font-size="4.8" textLength="3.63" lengthAdjust="spacingAndGlyphs">-2</text>
<line x1="38.60" y1="662.40" x2="42.00" y2="662.40" stroke="#151515" stroke-width="1.3"/>
<text x="22.86" y="665.35" font-size="8.9" textLength="9.11" lengthAdjust="spacingAndGlyphs">10</text>
<text x="32.37" y="661.10" font-size="4.8" textLength="3.63" lengthAdjust="spacingAndGlyphs">-3</text>
<line x1="38.60" y1="691.20" x2="42.00" y2="691.20" stroke="#151515" stroke-width="1.3"/>
<text x="22.86" y="694.15" font-size="8.9" textLength="9.11" lengthAdjust="spacingAndGlyphs">10</text>
<text x="32.37" y="689.90" font-size="4.8" textLength="3.63" lengthAdjust="spacingAndGlyphs">-4</text>
<line x1="38.60" y1="720.00" x2="42.00" y2="720.00" stroke="#151515" stroke-width="1.3"/>
<text x="22.86" y="722.95" font-size="8.9" textLength="9.11" lengthAdjust="spacingAndGlyphs">10</text>
<text x="32.37" y="718.70" font-size="4.8" textLength="3.63" lengthAdjust="spacingAndGlyphs">-5</text>
<line x1="38.60" y1="748.80" x2="42.00" y2="748.80" stroke="#151515" stroke-width="1.3"/>
<text x="22.86" y="751.75" font-size="8.9" textLength="9.11" lengthAdjust="spacingAndGlyphs">10</text>
<text x="32.37" y="747.50" font-size="4.8" textLength="3.63" lengthAdjust="spacingAndGlyphs">-6</text>
<line x1="70.20" y1="748.80" x2="70.20" y2="752.10" stroke="#151515" stroke-width="1.3"/>
<line x1="121.00" y1="748.80" x2="121.00" y2="752.10" stroke="#151515" stroke-width="1.3"/>
<text x="69.40" y="762.00" font-size="10.0" text-anchor="middle" textLength="15.20" lengthAdjust="spacingAndGlyphs">WT</text>
<text x="110.50" y="762.00" font-size="10.0" textLength="23.00" lengthAdjust="spacingAndGlyphs">IL-6-/-</text>
<text class="yl" transform="translate(15.70,694.50) rotate(-90)" font-size="10.2" textLength="64.40" lengthAdjust="spacingAndGlyphs" fill="#111">Dissemination index</text>
<line x1="79.20" y1="578.90" x2="118.90" y2="578.90" stroke="#5a5a5a" stroke-width="1.3"/>
<circle cx="97.50" cy="574.30" r="1.15" fill="#111"/>
<circle cx="100.90" cy="574.30" r="1.15" fill="#111"/>
<line x1="72.70" y1="603.50" x2="72.70" y2="627.00" stroke="#333" stroke-width="1.3"/>
<line x1="64.50" y1="603.50" x2="80.90" y2="603.50" stroke="#333" stroke-width="1.3"/>
<line x1="64.50" y1="627.00" x2="80.90" y2="627.00" stroke="#333" stroke-width="1.3"/>
<line x1="57.30" y1="615.00" x2="88.30" y2="615.00" stroke="#444" stroke-width="1.4"/>
<circle cx="74.90" cy="594.30" r="3.2" fill="#c62238"/>
<circle cx="70.80" cy="602.00" r="3.2" fill="#c62238"/>
<circle cx="68.30" cy="614.70" r="3.2" fill="#c62238"/>
<circle cx="77.00" cy="614.70" r="3.2" fill="#c62238"/>
<circle cx="72.70" cy="619.70" r="3.2" fill="#c62238"/>
<circle cx="75.10" cy="624.50" r="3.2" fill="#c62238"/>
<circle cx="79.20" cy="623.30" r="3.2" fill="#c62238"/>
<circle cx="83.90" cy="623.30" r="3.2" fill="#c62238"/>
<circle cx="61.50" cy="627.40" r="3.2" fill="#c62238"/>
<circle cx="65.90" cy="628.30" r="3.2" fill="#c62238"/>
<circle cx="70.80" cy="631.00" r="3.2" fill="#c62238"/>
<circle cx="70.80" cy="653.10" r="3.2" fill="#c62238"/>
<circle cx="74.90" cy="662.00" r="3.2" fill="#c62238"/>
<line x1="118.20" y1="615.00" x2="118.20" y2="644.80" stroke="#4f86b8" stroke-width="1.3"/>
<line x1="110.00" y1="614.80" x2="126.20" y2="614.80" stroke="#4f86b8" stroke-width="1.3"/>
<line x1="110.00" y1="644.80" x2="126.20" y2="644.80" stroke="#4f86b8" stroke-width="1.3"/>
<rect x="116.15" y="598.75" width="6.5" height="6.5" fill="#0f5688"/>
<rect x="112.75" y="612.15" width="6.5" height="6.5" fill="#0f5688"/>
<rect x="118.25" y="619.25" width="6.5" height="6.5" fill="#0f5688"/>
<rect x="112.55" y="626.55" width="6.5" height="6.5" fill="#0f5688"/>
<rect x="118.55" y="632.95" width="6.5" height="6.5" fill="#0f5688"/>
<rect x="113.05" y="637.95" width="6.5" height="6.5" fill="#0f5688"/>
<rect x="119.05" y="644.85" width="6.5" height="6.5" fill="#0f5688"/>
<rect x="109.95" y="650.95" width="6.5" height="6.5" fill="#0f5688"/>
<rect x="114.65" y="650.95" width="6.5" height="6.5" fill="#0f5688"/>
<rect x="120.95" y="655.95" width="6.5" height="6.5" fill="#0f5688"/>
<rect x="126.75" y="655.95" width="6.5" height="6.5" fill="#0f5688"/>
<rect x="104.75" y="660.75" width="6.5" height="6.5" fill="#0f5688"/>
<rect x="115.25" y="693.05" width="6.5" height="6.5" fill="#0f5688"/>
<rect x="106.60" y="717.00" width="24.80" height="6.50" fill="#0f5688"/>
<line x1="102.90" y1="629.80" x2="133.70" y2="629.80" stroke="#555" stroke-width="1.4"/>
<rect x="112.55" y="626.55" width="6.5" height="6.5" fill="#0f5688"/>
<text x="168.00" y="568.60" font-size="13" font-weight="bold" fill="#000">F</text>
<line x1="195.00" y1="575.70" x2="195.00" y2="752.30" stroke="#151515" stroke-width="1.3"/>
<line x1="195.00" y1="749.00" x2="308.70" y2="749.00" stroke="#151515" stroke-width="1.3"/>
<line x1="191.20" y1="749.00" x2="195.00" y2="749.00" stroke="#151515" stroke-width="1.3"/>
<text x="188.60" y="752.26" font-size="9.2" text-anchor="end" textLength="4.71" lengthAdjust="spacingAndGlyphs">0</text>
<line x1="191.20" y1="714.34" x2="195.00" y2="714.34" stroke="#151515" stroke-width="1.3"/>
<text x="188.60" y="717.60" font-size="9.2" text-anchor="end" textLength="4.71" lengthAdjust="spacingAndGlyphs">2</text>
<line x1="191.20" y1="679.68" x2="195.00" y2="679.68" stroke="#151515" stroke-width="1.3"/>
<text x="188.60" y="682.94" font-size="9.2" text-anchor="end" textLength="4.71" lengthAdjust="spacingAndGlyphs">4</text>
<line x1="191.20" y1="645.02" x2="195.00" y2="645.02" stroke="#151515" stroke-width="1.3"/>
<text x="188.60" y="648.28" font-size="9.2" text-anchor="end" textLength="4.71" lengthAdjust="spacingAndGlyphs">6</text>
<line x1="191.20" y1="610.36" x2="195.00" y2="610.36" stroke="#151515" stroke-width="1.3"/>
<text x="188.60" y="613.62" font-size="9.2" text-anchor="end" textLength="4.71" lengthAdjust="spacingAndGlyphs">8</text>
<line x1="191.20" y1="575.70" x2="195.00" y2="575.70" stroke="#151515" stroke-width="1.3"/>
<text x="188.60" y="578.96" font-size="9.2" text-anchor="end" textLength="9.41" lengthAdjust="spacingAndGlyphs">10</text>
<line x1="222.30" y1="749.00" x2="222.30" y2="752.30" stroke="#151515" stroke-width="1.3"/>
<line x1="278.90" y1="749.00" x2="278.90" y2="752.30" stroke="#151515" stroke-width="1.3"/>
<text x="222.30" y="762.30" font-size="10.0" text-anchor="middle" textLength="15.00" lengthAdjust="spacingAndGlyphs">WT</text>
<text x="266.90" y="762.30" font-size="10.0" textLength="23.00" lengthAdjust="spacingAndGlyphs">IL-6-/-</text>
<text class="yl" transform="translate(175.50,690.60) rotate(-90)" font-size="10.3" textLength="57.00" lengthAdjust="spacingAndGlyphs" fill="#111">Tumor in BM (%)</text>
<text x="257.90" y="582.80" font-size="7.6" textLength="9.00" lengthAdjust="spacingAndGlyphs">i.v.</text>
<line x1="222.20" y1="681.40" x2="222.20" y2="723.90" stroke="#333" stroke-width="1.3"/>
<line x1="214.70" y1="681.40" x2="230.90" y2="681.40" stroke="#333" stroke-width="1.3"/>
<line x1="214.70" y1="723.90" x2="230.90" y2="723.90" stroke="#333" stroke-width="1.3"/>
<line x1="207.30" y1="702.20" x2="237.50" y2="702.20" stroke="#333" stroke-width="1.3"/>
<circle cx="222.20" cy="666.50" r="3.25" fill="#c62238"/>
<circle cx="222.20" cy="677.90" r="3.25" fill="#c62238"/>
<circle cx="222.20" cy="691.10" r="3.25" fill="#c62238"/>
<circle cx="217.00" cy="702.50" r="3.25" fill="#c62238"/>
<circle cx="237.80" cy="702.50" r="3.25" fill="#c62238"/>
<circle cx="207.10" cy="707.70" r="3.25" fill="#c62238"/>
<circle cx="227.10" cy="706.00" r="3.25" fill="#c62238"/>
<circle cx="217.00" cy="714.40" r="3.25" fill="#c62238"/>
<circle cx="222.20" cy="724.50" r="3.25" fill="#c62238"/>
<circle cx="222.20" cy="736.20" r="3.25" fill="#c62238"/>
<line x1="278.90" y1="675.30" x2="278.90" y2="733.30" stroke="#4f86b8" stroke-width="1.8"/>
<line x1="271.10" y1="675.30" x2="287.20" y2="675.30" stroke="#4f86b8" stroke-width="1.4"/>
<line x1="271.10" y1="733.30" x2="287.20" y2="733.30" stroke="#4f86b8" stroke-width="1.4"/>
<line x1="263.60" y1="704.40" x2="294.70" y2="704.40" stroke="#222" stroke-width="1.2"/>
<rect x="275.65" y="650.85" width="6.5" height="6.5" fill="#0f5688"/>
<rect x="275.65" y="669.45" width="6.5" height="6.5" fill="#0f5688"/>
<rect x="259.75" y="693.05" width="6.5" height="6.5" fill="#0f5688"/>
<rect x="275.65" y="692.75" width="6.5" height="6.5" fill="#0f5688"/>
<rect x="291.05" y="695.65" width="6.5" height="6.5" fill="#0f5688"/>
<rect x="259.75" y="722.55" width="6.5" height="6.5" fill="#0f5688"/>
<rect x="259.75" y="730.35" width="6.5" height="6.5" fill="#0f5688"/>
<rect x="275.65" y="726.05" width="6.5" height="6.5" fill="#0f5688"/>
<rect x="291.05" y="726.45" width="6.5" height="6.5" fill="#0f5688"/>
<text x="326.70" y="569.20" font-size="13" font-weight="bold" fill="#000">G</text>
<line x1="360.30" y1="575.70" x2="360.30" y2="752.40" stroke="#151515" stroke-width="1.3"/>
<line x1="360.30" y1="749.10" x2="488.00" y2="749.10" stroke="#151515" stroke-width="1.3"/>
<line x1="356.80" y1="575.70" x2="360.30" y2="575.70" stroke="#151515" stroke-width="1.3"/>
<text x="341.92" y="580.55" font-size="8.9" textLength="9.11" lengthAdjust="spacingAndGlyphs">10</text>
<text x="351.43" y="576.30" font-size="4.8" textLength="2.27" lengthAdjust="spacingAndGlyphs">2</text>
<line x1="356.80" y1="604.60" x2="360.30" y2="604.60" stroke="#151515" stroke-width="1.3"/>
<text x="341.92" y="609.45" font-size="8.9" textLength="9.11" lengthAdjust="spacingAndGlyphs">10</text>
<text x="351.43" y="605.20" font-size="4.8" textLength="2.27" lengthAdjust="spacingAndGlyphs">1</text>
<line x1="356.80" y1="633.50" x2="360.30" y2="633.50" stroke="#151515" stroke-width="1.3"/>
<text x="341.92" y="638.35" font-size="8.9" textLength="9.11" lengthAdjust="spacingAndGlyphs">10</text>
<text x="351.43" y="634.10" font-size="4.8" textLength="2.27" lengthAdjust="spacingAndGlyphs">0</text>
<line x1="356.80" y1="662.40" x2="360.30" y2="662.40" stroke="#151515" stroke-width="1.3"/>
<text x="340.56" y="667.25" font-size="8.9" textLength="9.11" lengthAdjust="spacingAndGlyphs">10</text>
<text x="350.07" y="663.00" font-size="4.8" textLength="3.63" lengthAdjust="spacingAndGlyphs">-1</text>
<line x1="356.80" y1="691.30" x2="360.30" y2="691.30" stroke="#151515" stroke-width="1.3"/>
<text x="340.56" y="696.15" font-size="8.9" textLength="9.11" lengthAdjust="spacingAndGlyphs">10</text>
<text x="350.07" y="691.90" font-size="4.8" textLength="3.63" lengthAdjust="spacingAndGlyphs">-2</text>
<line x1="356.80" y1="720.20" x2="360.30" y2="720.20" stroke="#151515" stroke-width="1.3"/>
<text x="340.56" y="725.05" font-size="8.9" textLength="9.11" lengthAdjust="spacingAndGlyphs">10</text>
<text x="350.07" y="720.80" font-size="4.8" textLength="3.63" lengthAdjust="spacingAndGlyphs">-3</text>
<line x1="356.80" y1="749.10" x2="360.30" y2="749.10" stroke="#151515" stroke-width="1.3"/>
<text x="340.56" y="753.95" font-size="8.9" textLength="9.11" lengthAdjust="spacingAndGlyphs">10</text>
<text x="350.07" y="749.70" font-size="4.8" textLength="3.63" lengthAdjust="spacingAndGlyphs">-4</text>
<line x1="391.10" y1="749.10" x2="391.10" y2="752.40" stroke="#151515" stroke-width="1.3"/>
<line x1="452.40" y1="749.10" x2="452.40" y2="752.40" stroke="#151515" stroke-width="1.3"/>
<text x="391.30" y="763.00" font-size="10.0" text-anchor="middle" textLength="14.20" lengthAdjust="spacingAndGlyphs">WT</text>
<text x="437.70" y="763.00" font-size="10.0" textLength="22.80" lengthAdjust="spacingAndGlyphs">TNF-α</text>
<text x="462.30" y="759.20" font-size="4.8" textLength="4.80" lengthAdjust="spacingAndGlyphs">-/-</text>
<text class="yl" transform="translate(335.00,696.90) rotate(-90)" font-size="10.4" textLength="65.00" lengthAdjust="spacingAndGlyphs" fill="#111">%GFP<tspan font-size="6.24" dy="-3.95">+</tspan><tspan dy="3.95"> tumor cells</tspan></text>
<line x1="381.00" y1="591.60" x2="433.90" y2="591.60" stroke="#5a5a5a" stroke-width="1.3"/>
<circle cx="405.95" cy="586.80" r="1.15" fill="#111"/>
<circle cx="409.25" cy="586.80" r="1.15" fill="#111"/>
<line x1="419.20" y1="598.30" x2="472.00" y2="598.30" stroke="#5a5a5a" stroke-width="1.3"/>
<circle cx="445.30" cy="593.70" r="1.15" fill="#111"/>
<line x1="379.50" y1="602.70" x2="408.50" y2="645.00" stroke="#1a1a1a" stroke-width="1.0"/>
<line x1="379.50" y1="605.00" x2="408.50" y2="648.50" stroke="#1a1a1a" stroke-width="1.0"/>
<line x1="379.50" y1="610.40" x2="408.50" y2="691.00" stroke="#1a1a1a" stroke-width="1.0"/>
<line x1="379.50" y1="620.40" x2="408.50" y2="704.20" stroke="#1a1a1a" stroke-width="1.0"/>
<line x1="379.50" y1="622.00" x2="408.50" y2="706.50" stroke="#1a1a1a" stroke-width="1.0"/>
<line x1="379.50" y1="623.80" x2="408.50" y2="709.50" stroke="#1a1a1a" stroke-width="1.0"/>
<line x1="379.50" y1="626.20" x2="408.50" y2="724.00" stroke="#1a1a1a" stroke-width="1.0"/>
<line x1="379.50" y1="626.20" x2="408.50" y2="732.70" stroke="#1a1a1a" stroke-width="1.0"/>
<line x1="379.50" y1="647.30" x2="408.50" y2="724.00" stroke="#1a1a1a" stroke-width="1.0"/>
<line x1="437.90" y1="606.80" x2="467.80" y2="634.70" stroke="#1a1a1a" stroke-width="1.0"/>
<line x1="437.90" y1="627.60" x2="467.80" y2="672.90" stroke="#1a1a1a" stroke-width="1.0"/>
<line x1="437.90" y1="726.00" x2="467.80" y2="724.30" stroke="#1a1a1a" stroke-width="1.0"/>
<line x1="437.90" y1="727.50" x2="467.80" y2="740.50" stroke="#1a1a1a" stroke-width="1.0"/>
<line x1="437.90" y1="729.50" x2="467.80" y2="735.50" stroke="#1a1a1a" stroke-width="1.0"/>
<line x1="437.90" y1="733.00" x2="467.80" y2="738.00" stroke="#1a1a1a" stroke-width="1.0"/>
<line x1="437.90" y1="738.60" x2="467.80" y2="742.50" stroke="#1a1a1a" stroke-width="1.0"/>
<circle cx="379.50" cy="602.70" r="3.3" fill="#c62238"/>
<circle cx="379.50" cy="605.00" r="3.3" fill="#c62238"/>
<circle cx="379.50" cy="610.40" r="3.3" fill="#c62238"/>
<circle cx="379.50" cy="620.40" r="3.3" fill="#c62238"/>
<circle cx="379.50" cy="622.00" r="3.3" fill="#c62238"/>
<circle cx="379.50" cy="623.80" r="3.3" fill="#c62238"/>
<circle cx="379.50" cy="626.20" r="3.3" fill="#c62238"/>
<circle cx="379.50" cy="626.20" r="3.3" fill="#c62238"/>
<circle cx="379.50" cy="647.30" r="3.3" fill="#c62238"/>
<circle cx="437.90" cy="606.80" r="3.3" fill="#c62238"/>
<circle cx="437.90" cy="627.60" r="3.3" fill="#c62238"/>
<circle cx="437.90" cy="718.20" r="3.3" fill="#c62238"/>
<circle cx="437.90" cy="726.00" r="3.3" fill="#c62238"/>
<circle cx="437.90" cy="729.50" r="3.3" fill="#c62238"/>
<circle cx="437.90" cy="732.90" r="3.3" fill="#c62238"/>
<circle cx="437.90" cy="738.60" r="3.3" fill="#c62238"/>
<rect x="405.20" y="641.70" width="6.6" height="6.6" fill="#0f5688"/>
<rect x="405.20" y="645.20" width="6.6" height="6.6" fill="#0f5688"/>
<rect x="405.20" y="687.70" width="6.6" height="6.6" fill="#0f5688"/>
<rect x="405.20" y="700.90" width="6.6" height="6.6" fill="#0f5688"/>
<rect x="405.20" y="703.20" width="6.6" height="6.6" fill="#0f5688"/>
<rect x="405.20" y="706.20" width="6.6" height="6.6" fill="#0f5688"/>
<rect x="405.20" y="720.70" width="6.6" height="6.6" fill="#0f5688"/>
<rect x="405.20" y="729.40" width="6.6" height="6.6" fill="#0f5688"/>
<rect x="405.20" y="720.70" width="6.6" height="6.6" fill="#0f5688"/>
<rect x="464.50" y="631.40" width="6.6" height="6.6" fill="#0f5688"/>
<rect x="464.50" y="669.60" width="6.6" height="6.6" fill="#0f5688"/>
<rect x="464.50" y="721.00" width="6.6" height="6.6" fill="#0f5688"/>
<rect x="464.50" y="733.20" width="6.6" height="6.6" fill="#0f5688"/>
<rect x="464.50" y="736.70" width="6.6" height="6.6" fill="#0f5688"/>
<rect x="464.50" y="739.70" width="6.6" height="6.6" fill="#0f5688"/>
<rect x="0.5" y="0.5" width="519" height="770" fill="none" stroke="#000" stroke-width="1.2"/>
</svg>
</body></html>
